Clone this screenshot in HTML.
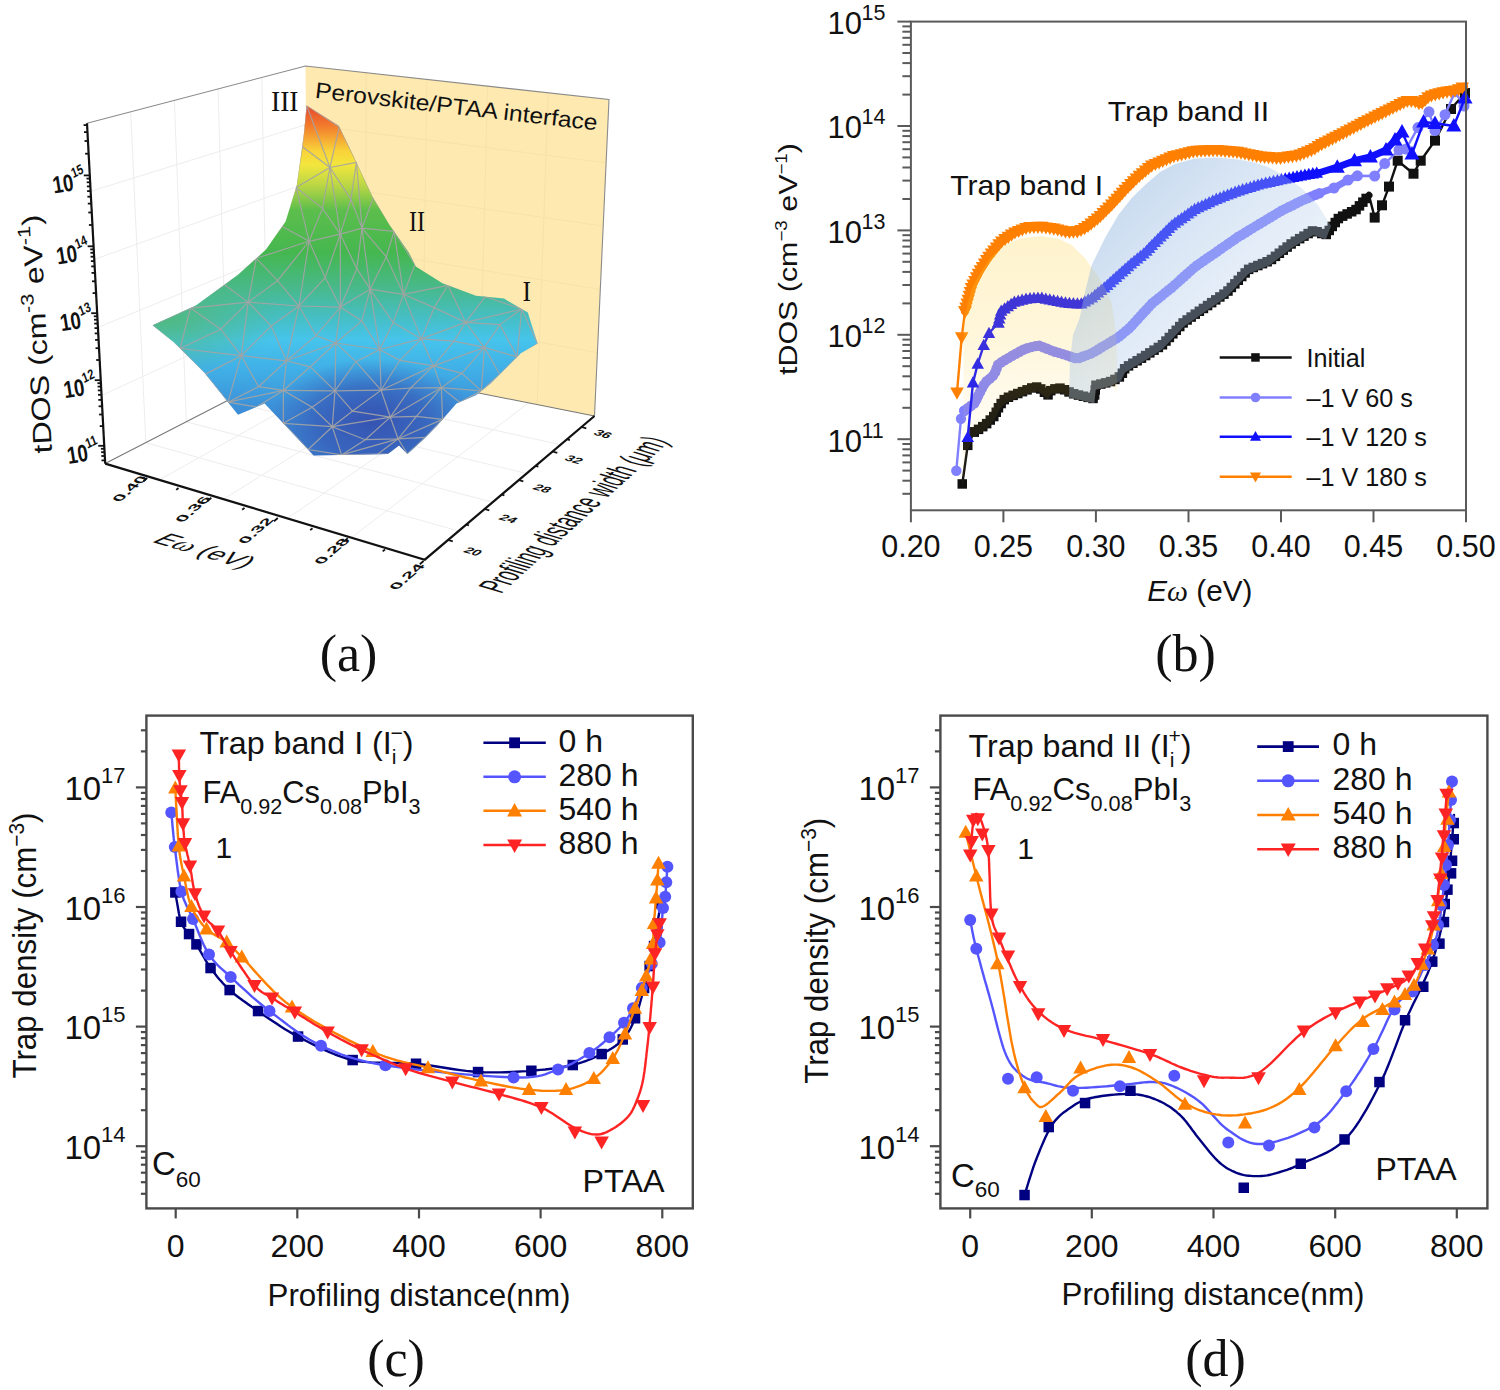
<!DOCTYPE html>
<html><head><meta charset="utf-8"><style>
html,body{margin:0;padding:0;background:#fff;}
svg{display:block;}
text{font-family:"Liberation Sans",sans-serif;fill:#111;}
</style></head><body>
<svg width="1500" height="1390" viewBox="0 0 1500 1390">
<rect width="1500" height="1390" fill="#fff"/>
<g stroke="#5a5a5a" stroke-width="2"><line x1="902.4" y1="493.8" x2="910.9" y2="493.8"/><line x1="902.4" y1="480.7" x2="910.9" y2="480.7"/><line x1="902.4" y1="470.6" x2="910.9" y2="470.6"/><line x1="902.4" y1="462.4" x2="910.9" y2="462.4"/><line x1="902.4" y1="455.4" x2="910.9" y2="455.4"/><line x1="902.4" y1="449.3" x2="910.9" y2="449.3"/><line x1="902.4" y1="444.0" x2="910.9" y2="444.0"/><line x1="897.4" y1="439.2" x2="910.9" y2="439.2"/><line x1="902.4" y1="407.8" x2="910.9" y2="407.8"/><line x1="902.4" y1="389.4" x2="910.9" y2="389.4"/><line x1="902.4" y1="376.3" x2="910.9" y2="376.3"/><line x1="902.4" y1="366.2" x2="910.9" y2="366.2"/><line x1="902.4" y1="358.0" x2="910.9" y2="358.0"/><line x1="902.4" y1="351.0" x2="910.9" y2="351.0"/><line x1="902.4" y1="344.9" x2="910.9" y2="344.9"/><line x1="902.4" y1="339.6" x2="910.9" y2="339.6"/><line x1="897.4" y1="334.8" x2="910.9" y2="334.8"/><line x1="902.4" y1="303.4" x2="910.9" y2="303.4"/><line x1="902.4" y1="285.0" x2="910.9" y2="285.0"/><line x1="902.4" y1="271.9" x2="910.9" y2="271.9"/><line x1="902.4" y1="261.8" x2="910.9" y2="261.8"/><line x1="902.4" y1="253.6" x2="910.9" y2="253.6"/><line x1="902.4" y1="246.6" x2="910.9" y2="246.6"/><line x1="902.4" y1="240.5" x2="910.9" y2="240.5"/><line x1="902.4" y1="235.2" x2="910.9" y2="235.2"/><line x1="897.4" y1="230.4" x2="910.9" y2="230.4"/><line x1="902.4" y1="199.0" x2="910.9" y2="199.0"/><line x1="902.4" y1="180.6" x2="910.9" y2="180.6"/><line x1="902.4" y1="167.5" x2="910.9" y2="167.5"/><line x1="902.4" y1="157.4" x2="910.9" y2="157.4"/><line x1="902.4" y1="149.2" x2="910.9" y2="149.2"/><line x1="902.4" y1="142.2" x2="910.9" y2="142.2"/><line x1="902.4" y1="136.1" x2="910.9" y2="136.1"/><line x1="902.4" y1="130.8" x2="910.9" y2="130.8"/><line x1="897.4" y1="126.0" x2="910.9" y2="126.0"/><line x1="902.4" y1="94.6" x2="910.9" y2="94.6"/><line x1="902.4" y1="76.2" x2="910.9" y2="76.2"/><line x1="902.4" y1="63.1" x2="910.9" y2="63.1"/><line x1="902.4" y1="53.0" x2="910.9" y2="53.0"/><line x1="902.4" y1="44.8" x2="910.9" y2="44.8"/><line x1="902.4" y1="37.8" x2="910.9" y2="37.8"/><line x1="902.4" y1="31.7" x2="910.9" y2="31.7"/><line x1="902.4" y1="26.4" x2="910.9" y2="26.4"/><line x1="897.4" y1="21.6" x2="910.9" y2="21.6"/><line x1="910.9" y1="510.3" x2="910.9" y2="522.3"/><line x1="1003.4" y1="510.3" x2="1003.4" y2="522.3"/><line x1="1095.9" y1="510.3" x2="1095.9" y2="522.3"/><line x1="1188.5" y1="510.3" x2="1188.5" y2="522.3"/><line x1="1281.0" y1="510.3" x2="1281.0" y2="522.3"/><line x1="1373.5" y1="510.3" x2="1373.5" y2="522.3"/><line x1="1466.0" y1="510.3" x2="1466.0" y2="522.3"/></g><text x="862" y="451.6" font-size="31" text-anchor="end">10</text><text x="861.5" y="437.6" font-size="21.5">11</text><text x="862" y="347.2" font-size="31" text-anchor="end">10</text><text x="861.5" y="333.2" font-size="21.5">12</text><text x="862" y="242.8" font-size="31" text-anchor="end">10</text><text x="861.5" y="228.8" font-size="21.5">13</text><text x="862" y="138.4" font-size="31" text-anchor="end">10</text><text x="861.5" y="124.4" font-size="21.5">14</text><text x="862" y="34.0" font-size="31" text-anchor="end">10</text><text x="861.5" y="20.0" font-size="21.5">15</text><text x="910.9" y="556.7" font-size="30.5" text-anchor="middle">0.20</text><text x="1003.4" y="556.7" font-size="30.5" text-anchor="middle">0.25</text><text x="1095.9" y="556.7" font-size="30.5" text-anchor="middle">0.30</text><text x="1188.5" y="556.7" font-size="30.5" text-anchor="middle">0.35</text><text x="1281.0" y="556.7" font-size="30.5" text-anchor="middle">0.40</text><text x="1373.5" y="556.7" font-size="30.5" text-anchor="middle">0.45</text><text x="1466.0" y="556.7" font-size="30.5" text-anchor="middle">0.50</text><text x="1147.3" y="600.7" font-size="29" textLength="105" lengthAdjust="spacingAndGlyphs"><tspan font-style="italic">E</tspan><tspan font-family="Liberation Serif" style="font-family:Liberation Serif" font-style="italic">&#969;</tspan> (eV)</text><text transform="translate(797,375) rotate(-90) scale(1.17,1)" font-size="26">tDOS (cm<tspan dy="-10" font-size="16">&#8722;3</tspan><tspan dy="10"> eV</tspan><tspan dy="-10" font-size="16">&#8722;1</tspan><tspan dy="10">)</tspan></text><text x="1185.6" y="671.2" font-size="52" text-anchor="middle" style="font-family:'Liberation Serif'">(b)</text><text x="950.2" y="195.4" font-size="28" textLength="153" lengthAdjust="spacingAndGlyphs">Trap band I</text><text x="1107.7" y="120.6" font-size="28" textLength="161.5" lengthAdjust="spacingAndGlyphs">Trap band II</text><polyline points="962.3,484.0 967.7,445.3 974.3,432.0 985.0,425.3 994.3,416.0 999.7,405.3 1005.0,398.7 1018.3,393.3 1031.7,388.0 1038.3,386.7 1047.7,395.3 1051.7,389.3 1061.0,388.0 1071.7,393.3 1085.0,396.7 1094.3,398.7 1095.7,385.3 1111.7,381.3 1121.0,376.0 1125.0,368.0 1138.3,360.0 1145.0,356.0 1162.4,344.8 1184.0,322.1 1205.5,307.0 1227.0,292.0 1248.7,269.3 1270.0,260.6 1291.8,243.4 1313.4,230.4 1325.8,235.0 1338.7,218.0 1356.0,209.6 1369.0,195.3 1374.7,217.6 1382.0,205.3 1389.0,186.6 1397.7,160.7 1413.5,173.7 1420.7,160.7 1435.0,140.6 1451.0,109.0 1465.0,93.0" fill="none" stroke="#111111" stroke-width="2.4" stroke-linejoin="round"/><polyline points="974.3,432.0 985.0,425.3 994.3,416.0 999.7,405.3 1005.0,398.7 1018.3,393.3 1031.7,388.0 1038.3,386.7 1047.7,395.3 1051.7,389.3 1061.0,388.0 1071.7,393.3 1085.0,396.7 1094.3,398.7 1095.7,385.3 1111.7,381.3 1121.0,376.0 1125.0,368.0 1138.3,360.0 1145.0,356.0 1162.4,344.8 1184.0,322.1 1205.5,307.0 1227.0,292.0 1248.7,269.3 1270.0,260.6 1291.8,243.4 1313.4,230.4 1325.8,235.0 1338.7,218.0 1356.0,209.6 1369.0,195.3" fill="none" stroke="#111111" stroke-width="7" stroke-linejoin="round" stroke-linecap="round"/><rect x="957.5" y="479.2" width="9.5" height="9.5" fill="#111111"/><rect x="963.0" y="440.6" width="9.5" height="9.5" fill="#111111"/><rect x="969.5" y="427.2" width="9.5" height="9.5" fill="#111111"/><rect x="969.5" y="427.2" width="9.5" height="9.5" fill="#111111"/><rect x="973.8" y="424.6" width="9.5" height="9.5" fill="#111111"/><rect x="978.0" y="421.9" width="9.5" height="9.5" fill="#111111"/><rect x="981.9" y="418.9" width="9.5" height="9.5" fill="#111111"/><rect x="985.5" y="415.3" width="9.5" height="9.5" fill="#111111"/><rect x="989.0" y="411.8" width="9.5" height="9.5" fill="#111111"/><rect x="991.5" y="407.5" width="9.5" height="9.5" fill="#111111"/><rect x="993.7" y="403.0" width="9.5" height="9.5" fill="#111111"/><rect x="996.4" y="398.8" width="9.5" height="9.5" fill="#111111"/><rect x="999.5" y="394.9" width="9.5" height="9.5" fill="#111111"/><rect x="1003.7" y="392.5" width="9.5" height="9.5" fill="#111111"/><rect x="1008.4" y="390.6" width="9.5" height="9.5" fill="#111111"/><rect x="1013.0" y="388.8" width="9.5" height="9.5" fill="#111111"/><rect x="1017.7" y="386.9" width="9.5" height="9.5" fill="#111111"/><rect x="1022.3" y="385.1" width="9.5" height="9.5" fill="#111111"/><rect x="1027.0" y="383.2" width="9.5" height="9.5" fill="#111111"/><rect x="1031.9" y="382.3" width="9.5" height="9.5" fill="#111111"/><rect x="1036.0" y="384.2" width="9.5" height="9.5" fill="#111111"/><rect x="1039.7" y="387.5" width="9.5" height="9.5" fill="#111111"/><rect x="1043.3" y="390.1" width="9.5" height="9.5" fill="#111111"/><rect x="1046.0" y="385.9" width="9.5" height="9.5" fill="#111111"/><rect x="1050.2" y="384.1" width="9.5" height="9.5" fill="#111111"/><rect x="1055.2" y="383.4" width="9.5" height="9.5" fill="#111111"/><rect x="1059.8" y="385.0" width="9.5" height="9.5" fill="#111111"/><rect x="1064.3" y="387.2" width="9.5" height="9.5" fill="#111111"/><rect x="1068.9" y="389.0" width="9.5" height="9.5" fill="#111111"/><rect x="1073.7" y="390.3" width="9.5" height="9.5" fill="#111111"/><rect x="1078.6" y="391.5" width="9.5" height="9.5" fill="#111111"/><rect x="1083.4" y="392.6" width="9.5" height="9.5" fill="#111111"/><rect x="1088.3" y="393.7" width="9.5" height="9.5" fill="#111111"/><rect x="1089.9" y="390.2" width="9.5" height="9.5" fill="#111111"/><rect x="1090.5" y="385.2" width="9.5" height="9.5" fill="#111111"/><rect x="1091.2" y="380.5" width="9.5" height="9.5" fill="#111111"/><rect x="1096.1" y="379.3" width="9.5" height="9.5" fill="#111111"/><rect x="1100.9" y="378.1" width="9.5" height="9.5" fill="#111111"/><rect x="1105.8" y="376.8" width="9.5" height="9.5" fill="#111111"/><rect x="1110.2" y="374.7" width="9.5" height="9.5" fill="#111111"/><rect x="1114.6" y="372.2" width="9.5" height="9.5" fill="#111111"/><rect x="1117.6" y="368.5" width="9.5" height="9.5" fill="#111111"/><rect x="1119.9" y="364.0" width="9.5" height="9.5" fill="#111111"/><rect x="1123.8" y="361.1" width="9.5" height="9.5" fill="#111111"/><rect x="1128.1" y="358.5" width="9.5" height="9.5" fill="#111111"/><rect x="1132.4" y="356.0" width="9.5" height="9.5" fill="#111111"/><rect x="1136.7" y="353.4" width="9.5" height="9.5" fill="#111111"/><rect x="1140.9" y="350.8" width="9.5" height="9.5" fill="#111111"/><rect x="1145.1" y="348.1" width="9.5" height="9.5" fill="#111111"/><rect x="1149.3" y="345.4" width="9.5" height="9.5" fill="#111111"/><rect x="1153.6" y="342.7" width="9.5" height="9.5" fill="#111111"/><rect x="1157.7" y="340.0" width="9.5" height="9.5" fill="#111111"/><rect x="1161.2" y="336.3" width="9.5" height="9.5" fill="#111111"/><rect x="1164.6" y="332.7" width="9.5" height="9.5" fill="#111111"/><rect x="1168.1" y="329.1" width="9.5" height="9.5" fill="#111111"/><rect x="1171.5" y="325.5" width="9.5" height="9.5" fill="#111111"/><rect x="1175.0" y="321.8" width="9.5" height="9.5" fill="#111111"/><rect x="1178.4" y="318.2" width="9.5" height="9.5" fill="#111111"/><rect x="1182.4" y="315.2" width="9.5" height="9.5" fill="#111111"/><rect x="1186.4" y="312.3" width="9.5" height="9.5" fill="#111111"/><rect x="1190.5" y="309.4" width="9.5" height="9.5" fill="#111111"/><rect x="1194.6" y="306.5" width="9.5" height="9.5" fill="#111111"/><rect x="1198.7" y="303.7" width="9.5" height="9.5" fill="#111111"/><rect x="1202.8" y="300.8" width="9.5" height="9.5" fill="#111111"/><rect x="1206.9" y="297.9" width="9.5" height="9.5" fill="#111111"/><rect x="1211.0" y="295.1" width="9.5" height="9.5" fill="#111111"/><rect x="1215.1" y="292.2" width="9.5" height="9.5" fill="#111111"/><rect x="1219.2" y="289.4" width="9.5" height="9.5" fill="#111111"/><rect x="1223.2" y="286.3" width="9.5" height="9.5" fill="#111111"/><rect x="1226.6" y="282.7" width="9.5" height="9.5" fill="#111111"/><rect x="1230.1" y="279.1" width="9.5" height="9.5" fill="#111111"/><rect x="1233.5" y="275.5" width="9.5" height="9.5" fill="#111111"/><rect x="1237.0" y="271.8" width="9.5" height="9.5" fill="#111111"/><rect x="1240.4" y="268.2" width="9.5" height="9.5" fill="#111111"/><rect x="1243.9" y="264.6" width="9.5" height="9.5" fill="#111111"/><rect x="1248.5" y="262.7" width="9.5" height="9.5" fill="#111111"/><rect x="1253.1" y="260.8" width="9.5" height="9.5" fill="#111111"/><rect x="1257.7" y="258.9" width="9.5" height="9.5" fill="#111111"/><rect x="1262.4" y="257.0" width="9.5" height="9.5" fill="#111111"/><rect x="1266.7" y="254.7" width="9.5" height="9.5" fill="#111111"/><rect x="1270.7" y="251.6" width="9.5" height="9.5" fill="#111111"/><rect x="1274.6" y="248.5" width="9.5" height="9.5" fill="#111111"/><rect x="1278.5" y="245.4" width="9.5" height="9.5" fill="#111111"/><rect x="1282.4" y="242.3" width="9.5" height="9.5" fill="#111111"/><rect x="1286.4" y="239.2" width="9.5" height="9.5" fill="#111111"/><rect x="1290.6" y="236.5" width="9.5" height="9.5" fill="#111111"/><rect x="1294.9" y="233.9" width="9.5" height="9.5" fill="#111111"/><rect x="1299.2" y="231.4" width="9.5" height="9.5" fill="#111111"/><rect x="1303.4" y="228.8" width="9.5" height="9.5" fill="#111111"/><rect x="1307.7" y="226.2" width="9.5" height="9.5" fill="#111111"/><rect x="1312.3" y="227.0" width="9.5" height="9.5" fill="#111111"/><rect x="1317.0" y="228.8" width="9.5" height="9.5" fill="#111111"/><rect x="1321.5" y="229.7" width="9.5" height="9.5" fill="#111111"/><rect x="1324.5" y="225.7" width="9.5" height="9.5" fill="#111111"/><rect x="1327.5" y="221.7" width="9.5" height="9.5" fill="#111111"/><rect x="1330.5" y="217.8" width="9.5" height="9.5" fill="#111111"/><rect x="1333.6" y="213.8" width="9.5" height="9.5" fill="#111111"/><rect x="1337.9" y="211.4" width="9.5" height="9.5" fill="#111111"/><rect x="1342.4" y="209.2" width="9.5" height="9.5" fill="#111111"/><rect x="1346.9" y="207.0" width="9.5" height="9.5" fill="#111111"/><rect x="1351.3" y="204.8" width="9.5" height="9.5" fill="#111111"/><rect x="1354.7" y="201.1" width="9.5" height="9.5" fill="#111111"/><rect x="1358.1" y="197.4" width="9.5" height="9.5" fill="#111111"/><rect x="1361.4" y="193.7" width="9.5" height="9.5" fill="#111111"/><rect x="1369.7" y="212.6" width="10.0" height="10.0" fill="#111111"/><rect x="1377.0" y="200.3" width="10.0" height="10.0" fill="#111111"/><rect x="1384.0" y="181.6" width="10.0" height="10.0" fill="#111111"/><rect x="1392.7" y="155.7" width="10.0" height="10.0" fill="#111111"/><rect x="1408.5" y="168.7" width="10.0" height="10.0" fill="#111111"/><rect x="1415.7" y="155.7" width="10.0" height="10.0" fill="#111111"/><rect x="1430.0" y="135.6" width="10.0" height="10.0" fill="#111111"/><rect x="1446.0" y="104.0" width="10.0" height="10.0" fill="#111111"/><rect x="1460.0" y="88.0" width="10.0" height="10.0" fill="#111111"/><polyline points="956.3,470.7 961.0,418.7 964.3,410.7 975.0,402.7 979.0,394.0 985.0,382.7 994.3,374.7 998.3,364.0 1011.7,356.0 1025.0,348.7 1038.3,345.3 1051.7,350.7 1065.0,354.7 1077.0,358.7 1091.7,353.3 1105.0,345.3 1118.3,337.3 1130.0,327.5 1151.6,303.8 1173.0,286.5 1194.7,267.0 1216.3,252.0 1238.0,237.0 1259.4,224.0 1281.0,211.0 1302.6,200.2 1320.0,193.0 1334.0,188.0 1348.0,180.0 1357.4,175.8 1374.7,176.0 1384.7,163.6 1399.0,150.0 1406.0,149.0 1418.0,127.6 1429.0,111.8 1435.0,130.5 1445.0,114.7 1455.0,91.7 1464.0,106.0" fill="none" stroke="#8080ff" stroke-width="2.4" stroke-linejoin="round"/><polyline points="964.3,410.7 975.0,402.7 979.0,394.0 985.0,382.7 994.3,374.7 998.3,364.0 1011.7,356.0 1025.0,348.7 1038.3,345.3 1051.7,350.7 1065.0,354.7 1077.0,358.7 1091.7,353.3 1105.0,345.3 1118.3,337.3 1130.0,327.5 1151.6,303.8 1173.0,286.5 1194.7,267.0 1216.3,252.0 1238.0,237.0 1259.4,224.0 1281.0,211.0 1302.6,200.2 1320.0,193.0 1334.0,188.0 1348.0,180.0 1357.4,175.8" fill="none" stroke="#8080ff" stroke-width="7" stroke-linejoin="round" stroke-linecap="round"/><circle cx="956.3" cy="470.7" r="5.2" fill="#8080ff"/><circle cx="961.0" cy="418.7" r="5.2" fill="#8080ff"/><circle cx="964.3" cy="410.7" r="5.2" fill="#8080ff"/><circle cx="964.3" cy="410.7" r="5.2" fill="#8080ff"/><circle cx="967.7" cy="408.2" r="5.2" fill="#8080ff"/><circle cx="971.0" cy="405.7" r="5.2" fill="#8080ff"/><circle cx="974.4" cy="403.2" r="5.2" fill="#8080ff"/><circle cx="976.4" cy="399.6" r="5.2" fill="#8080ff"/><circle cx="978.2" cy="395.8" r="5.2" fill="#8080ff"/><circle cx="980.1" cy="392.0" r="5.2" fill="#8080ff"/><circle cx="982.0" cy="388.3" r="5.2" fill="#8080ff"/><circle cx="984.0" cy="384.6" r="5.2" fill="#8080ff"/><circle cx="986.6" cy="381.3" r="5.2" fill="#8080ff"/><circle cx="989.8" cy="378.6" r="5.2" fill="#8080ff"/><circle cx="992.9" cy="375.9" r="5.2" fill="#8080ff"/><circle cx="995.1" cy="372.4" r="5.2" fill="#8080ff"/><circle cx="996.6" cy="368.5" r="5.2" fill="#8080ff"/><circle cx="998.1" cy="364.6" r="5.2" fill="#8080ff"/><circle cx="1001.4" cy="362.2" r="5.2" fill="#8080ff"/><circle cx="1005.0" cy="360.0" r="5.2" fill="#8080ff"/><circle cx="1008.6" cy="357.9" r="5.2" fill="#8080ff"/><circle cx="1012.2" cy="355.7" r="5.2" fill="#8080ff"/><circle cx="1015.9" cy="353.7" r="5.2" fill="#8080ff"/><circle cx="1019.6" cy="351.7" r="5.2" fill="#8080ff"/><circle cx="1023.2" cy="349.7" r="5.2" fill="#8080ff"/><circle cx="1027.1" cy="348.2" r="5.2" fill="#8080ff"/><circle cx="1031.2" cy="347.1" r="5.2" fill="#8080ff"/><circle cx="1035.3" cy="346.1" r="5.2" fill="#8080ff"/><circle cx="1039.3" cy="345.7" r="5.2" fill="#8080ff"/><circle cx="1043.2" cy="347.3" r="5.2" fill="#8080ff"/><circle cx="1047.1" cy="348.8" r="5.2" fill="#8080ff"/><circle cx="1051.0" cy="350.4" r="5.2" fill="#8080ff"/><circle cx="1055.0" cy="351.7" r="5.2" fill="#8080ff"/><circle cx="1059.0" cy="352.9" r="5.2" fill="#8080ff"/><circle cx="1063.0" cy="354.1" r="5.2" fill="#8080ff"/><circle cx="1067.0" cy="355.4" r="5.2" fill="#8080ff"/><circle cx="1071.0" cy="356.7" r="5.2" fill="#8080ff"/><circle cx="1075.0" cy="358.0" r="5.2" fill="#8080ff"/><circle cx="1079.0" cy="358.0" r="5.2" fill="#8080ff"/><circle cx="1082.9" cy="356.5" r="5.2" fill="#8080ff"/><circle cx="1086.8" cy="355.1" r="5.2" fill="#8080ff"/><circle cx="1090.8" cy="353.6" r="5.2" fill="#8080ff"/><circle cx="1094.5" cy="351.6" r="5.2" fill="#8080ff"/><circle cx="1098.1" cy="349.5" r="5.2" fill="#8080ff"/><circle cx="1101.7" cy="347.3" r="5.2" fill="#8080ff"/><circle cx="1105.3" cy="345.1" r="5.2" fill="#8080ff"/><circle cx="1108.9" cy="343.0" r="5.2" fill="#8080ff"/><circle cx="1112.5" cy="340.8" r="5.2" fill="#8080ff"/><circle cx="1116.1" cy="338.6" r="5.2" fill="#8080ff"/><circle cx="1119.5" cy="336.3" r="5.2" fill="#8080ff"/><circle cx="1122.7" cy="333.6" r="5.2" fill="#8080ff"/><circle cx="1126.0" cy="330.9" r="5.2" fill="#8080ff"/><circle cx="1129.2" cy="328.2" r="5.2" fill="#8080ff"/><circle cx="1132.1" cy="325.2" r="5.2" fill="#8080ff"/><circle cx="1134.9" cy="322.1" r="5.2" fill="#8080ff"/><circle cx="1137.8" cy="319.0" r="5.2" fill="#8080ff"/><circle cx="1140.6" cy="315.9" r="5.2" fill="#8080ff"/><circle cx="1143.4" cy="312.8" r="5.2" fill="#8080ff"/><circle cx="1146.3" cy="309.7" r="5.2" fill="#8080ff"/><circle cx="1149.1" cy="306.6" r="5.2" fill="#8080ff"/><circle cx="1152.0" cy="303.5" r="5.2" fill="#8080ff"/><circle cx="1155.2" cy="300.9" r="5.2" fill="#8080ff"/><circle cx="1158.5" cy="298.2" r="5.2" fill="#8080ff"/><circle cx="1161.8" cy="295.6" r="5.2" fill="#8080ff"/><circle cx="1165.0" cy="292.9" r="5.2" fill="#8080ff"/><circle cx="1168.3" cy="290.3" r="5.2" fill="#8080ff"/><circle cx="1171.6" cy="287.7" r="5.2" fill="#8080ff"/><circle cx="1174.7" cy="284.9" r="5.2" fill="#8080ff"/><circle cx="1177.9" cy="282.1" r="5.2" fill="#8080ff"/><circle cx="1181.0" cy="279.3" r="5.2" fill="#8080ff"/><circle cx="1184.1" cy="276.5" r="5.2" fill="#8080ff"/><circle cx="1187.2" cy="273.7" r="5.2" fill="#8080ff"/><circle cx="1190.4" cy="270.9" r="5.2" fill="#8080ff"/><circle cx="1193.5" cy="268.1" r="5.2" fill="#8080ff"/><circle cx="1196.8" cy="265.5" r="5.2" fill="#8080ff"/><circle cx="1200.3" cy="263.1" r="5.2" fill="#8080ff"/><circle cx="1203.7" cy="260.7" r="5.2" fill="#8080ff"/><circle cx="1207.2" cy="258.3" r="5.2" fill="#8080ff"/><circle cx="1210.6" cy="256.0" r="5.2" fill="#8080ff"/><circle cx="1214.1" cy="253.6" r="5.2" fill="#8080ff"/><circle cx="1217.5" cy="251.2" r="5.2" fill="#8080ff"/><circle cx="1221.0" cy="248.8" r="5.2" fill="#8080ff"/><circle cx="1224.4" cy="246.4" r="5.2" fill="#8080ff"/><circle cx="1227.9" cy="244.0" r="5.2" fill="#8080ff"/><circle cx="1231.3" cy="241.6" r="5.2" fill="#8080ff"/><circle cx="1234.8" cy="239.2" r="5.2" fill="#8080ff"/><circle cx="1238.2" cy="236.8" r="5.2" fill="#8080ff"/><circle cx="1241.8" cy="234.7" r="5.2" fill="#8080ff"/><circle cx="1245.4" cy="232.5" r="5.2" fill="#8080ff"/><circle cx="1249.0" cy="230.3" r="5.2" fill="#8080ff"/><circle cx="1252.6" cy="228.1" r="5.2" fill="#8080ff"/><circle cx="1256.2" cy="225.9" r="5.2" fill="#8080ff"/><circle cx="1259.8" cy="223.8" r="5.2" fill="#8080ff"/><circle cx="1263.4" cy="221.6" r="5.2" fill="#8080ff"/><circle cx="1267.0" cy="219.4" r="5.2" fill="#8080ff"/><circle cx="1270.6" cy="217.3" r="5.2" fill="#8080ff"/><circle cx="1274.2" cy="215.1" r="5.2" fill="#8080ff"/><circle cx="1277.8" cy="212.9" r="5.2" fill="#8080ff"/><circle cx="1281.4" cy="210.8" r="5.2" fill="#8080ff"/><circle cx="1285.1" cy="208.9" r="5.2" fill="#8080ff"/><circle cx="1288.9" cy="207.0" r="5.2" fill="#8080ff"/><circle cx="1292.7" cy="205.2" r="5.2" fill="#8080ff"/><circle cx="1296.4" cy="203.3" r="5.2" fill="#8080ff"/><circle cx="1300.2" cy="201.4" r="5.2" fill="#8080ff"/><circle cx="1304.0" cy="199.6" r="5.2" fill="#8080ff"/><circle cx="1307.9" cy="198.0" r="5.2" fill="#8080ff"/><circle cx="1311.7" cy="196.4" r="5.2" fill="#8080ff"/><circle cx="1315.6" cy="194.8" r="5.2" fill="#8080ff"/><circle cx="1319.5" cy="193.2" r="5.2" fill="#8080ff"/><circle cx="1334.0" cy="188.0" r="5.5" fill="#8080ff"/><circle cx="1348.0" cy="180.0" r="5.5" fill="#8080ff"/><circle cx="1357.4" cy="175.8" r="5.5" fill="#8080ff"/><circle cx="1374.7" cy="176.0" r="5.5" fill="#8080ff"/><circle cx="1384.7" cy="163.6" r="5.5" fill="#8080ff"/><circle cx="1399.0" cy="150.0" r="5.5" fill="#8080ff"/><circle cx="1406.0" cy="149.0" r="5.5" fill="#8080ff"/><circle cx="1418.0" cy="127.6" r="5.5" fill="#8080ff"/><circle cx="1429.0" cy="111.8" r="5.5" fill="#8080ff"/><circle cx="1435.0" cy="130.5" r="5.5" fill="#8080ff"/><circle cx="1445.0" cy="114.7" r="5.5" fill="#8080ff"/><circle cx="1455.0" cy="91.7" r="5.5" fill="#8080ff"/><circle cx="1464.0" cy="106.0" r="5.5" fill="#8080ff"/><polyline points="967.7,437.3 973.0,382.7 977.7,364.0 983.7,345.3 989.0,333.3 998.3,322.7 1001.0,311.3 1014.3,302.0 1027.7,298.7 1041.0,298.0 1054.3,300.7 1067.7,303.3 1081.0,304.0 1091.7,298.0 1105.0,287.3 1118.3,275.3 1131.7,263.3 1145.0,252.7 1151.6,245.5 1173.0,224.4 1194.7,209.3 1216.3,199.2 1238.0,191.0 1259.4,184.5 1281.0,179.7 1302.6,175.4 1320.0,172.5 1337.3,167.2 1354.5,160.7 1370.4,157.0 1386.0,150.0 1395.0,140.0 1402.0,132.0 1412.0,154.0 1423.6,122.0 1435.0,123.3 1453.8,126.0 1465.0,98.0" fill="none" stroke="#1010ff" stroke-width="2.4" stroke-linejoin="round"/><polyline points="998.3,322.7 1001.0,311.3 1014.3,302.0 1027.7,298.7 1041.0,298.0 1054.3,300.7 1067.7,303.3 1081.0,304.0 1091.7,298.0 1105.0,287.3 1118.3,275.3 1131.7,263.3 1145.0,252.7 1151.6,245.5 1173.0,224.4 1194.7,209.3 1216.3,199.2 1238.0,191.0 1259.4,184.5 1281.0,179.7 1302.6,175.4 1320.0,172.5 1337.3,167.2 1354.5,160.7 1370.4,157.0 1386.0,150.0 1395.0,140.0 1402.0,132.0" fill="none" stroke="#1010ff" stroke-width="7" stroke-linejoin="round" stroke-linecap="round"/><polygon points="967.7,430.7 974.0,442.0 961.5,442.0" fill="#1010ff"/><polygon points="973.0,376.1 979.2,387.4 966.8,387.4" fill="#1010ff"/><polygon points="977.7,357.4 984.0,368.7 971.5,368.7" fill="#1010ff"/><polygon points="983.7,338.7 990.0,350.0 977.5,350.0" fill="#1010ff"/><polygon points="989.0,326.7 995.2,338.0 982.8,338.0" fill="#1010ff"/><polygon points="998.3,316.1 1004.5,327.4 992.0,327.4" fill="#1010ff"/><polygon points="998.3,316.1 1004.5,327.4 992.0,327.4" fill="#1010ff"/><polygon points="999.2,312.2 1005.5,323.5 993.0,323.5" fill="#1010ff"/><polygon points="1000.1,308.4 1006.4,319.6 993.9,319.6" fill="#1010ff"/><polygon points="1001.2,304.6 1007.5,315.8 995.0,315.8" fill="#1010ff"/><polygon points="1004.5,302.3 1010.8,313.5 998.3,313.5" fill="#1010ff"/><polygon points="1007.8,300.0 1014.0,311.2 1001.5,311.2" fill="#1010ff"/><polygon points="1011.1,297.7 1017.3,308.9 1004.8,308.9" fill="#1010ff"/><polygon points="1014.4,295.4 1020.6,306.7 1008.1,306.7" fill="#1010ff"/><polygon points="1018.2,294.5 1024.5,305.7 1012.0,305.7" fill="#1010ff"/><polygon points="1022.1,293.5 1028.4,304.8 1015.9,304.8" fill="#1010ff"/><polygon points="1026.0,292.6 1032.3,303.8 1019.8,303.8" fill="#1010ff"/><polygon points="1030.0,292.0 1036.2,303.3 1023.7,303.3" fill="#1010ff"/><polygon points="1033.9,291.8 1040.2,303.1 1027.7,303.1" fill="#1010ff"/><polygon points="1037.9,291.6 1044.2,302.8 1031.7,302.8" fill="#1010ff"/><polygon points="1041.9,291.6 1048.2,302.9 1035.7,302.9" fill="#1010ff"/><polygon points="1045.8,292.4 1052.1,303.7 1039.6,303.7" fill="#1010ff"/><polygon points="1049.8,293.2 1056.0,304.5 1043.5,304.5" fill="#1010ff"/><polygon points="1053.7,294.0 1059.9,305.3 1047.4,305.3" fill="#1010ff"/><polygon points="1057.6,294.8 1063.9,306.0 1051.4,306.0" fill="#1010ff"/><polygon points="1061.5,295.5 1067.8,306.8 1055.3,306.8" fill="#1010ff"/><polygon points="1065.5,296.3 1071.7,307.6 1059.2,307.6" fill="#1010ff"/><polygon points="1069.4,296.8 1075.7,308.1 1063.2,308.1" fill="#1010ff"/><polygon points="1073.4,297.0 1079.7,308.3 1067.2,308.3" fill="#1010ff"/><polygon points="1077.4,297.2 1083.7,308.5 1071.2,308.5" fill="#1010ff"/><polygon points="1081.3,297.2 1087.6,308.5 1075.1,308.5" fill="#1010ff"/><polygon points="1084.8,295.3 1091.1,306.5 1078.6,306.5" fill="#1010ff"/><polygon points="1088.3,293.3 1094.6,304.6 1082.1,304.6" fill="#1010ff"/><polygon points="1091.8,291.4 1098.1,302.6 1085.6,302.6" fill="#1010ff"/><polygon points="1094.9,288.8 1101.2,300.1 1088.7,300.1" fill="#1010ff"/><polygon points="1098.0,286.3 1104.3,297.6 1091.8,297.6" fill="#1010ff"/><polygon points="1101.2,283.8 1107.4,295.1 1094.9,295.1" fill="#1010ff"/><polygon points="1104.3,281.3 1110.5,292.6 1098.0,292.6" fill="#1010ff"/><polygon points="1107.3,278.7 1113.5,289.9 1101.0,289.9" fill="#1010ff"/><polygon points="1110.2,276.0 1116.5,287.3 1104.0,287.3" fill="#1010ff"/><polygon points="1113.2,273.3 1119.5,284.6 1107.0,284.6" fill="#1010ff"/><polygon points="1116.2,270.6 1122.4,281.9 1109.9,281.9" fill="#1010ff"/><polygon points="1119.2,268.0 1125.4,279.2 1112.9,279.2" fill="#1010ff"/><polygon points="1122.1,265.3 1128.4,276.6 1115.9,276.6" fill="#1010ff"/><polygon points="1125.1,262.6 1131.4,273.9 1118.9,273.9" fill="#1010ff"/><polygon points="1128.1,260.0 1134.3,271.2 1121.8,271.2" fill="#1010ff"/><polygon points="1131.1,257.3 1137.3,268.5 1124.8,268.5" fill="#1010ff"/><polygon points="1134.2,254.8 1140.4,266.0 1127.9,266.0" fill="#1010ff"/><polygon points="1137.3,252.3 1143.5,263.5 1131.0,263.5" fill="#1010ff"/><polygon points="1140.4,249.8 1146.7,261.0 1134.2,261.0" fill="#1010ff"/><polygon points="1143.6,247.3 1149.8,258.5 1137.3,258.5" fill="#1010ff"/><polygon points="1146.5,244.6 1152.7,255.8 1140.2,255.8" fill="#1010ff"/><polygon points="1149.2,241.6 1155.4,252.9 1142.9,252.9" fill="#1010ff"/><polygon points="1151.9,238.7 1158.1,249.9 1145.6,249.9" fill="#1010ff"/><polygon points="1154.7,235.9 1161.0,247.1 1148.5,247.1" fill="#1010ff"/><polygon points="1157.6,233.1 1163.8,244.3 1151.3,244.3" fill="#1010ff"/><polygon points="1160.4,230.2 1166.7,241.5 1154.2,241.5" fill="#1010ff"/><polygon points="1163.3,227.4 1169.5,238.7 1157.0,238.7" fill="#1010ff"/><polygon points="1166.1,224.6 1172.4,235.9 1159.9,235.9" fill="#1010ff"/><polygon points="1169.0,221.8 1175.2,233.1 1162.7,233.1" fill="#1010ff"/><polygon points="1171.8,219.0 1178.1,230.3 1165.6,230.3" fill="#1010ff"/><polygon points="1174.9,216.5 1181.2,227.8 1168.7,227.8" fill="#1010ff"/><polygon points="1178.2,214.2 1184.4,225.5 1171.9,225.5" fill="#1010ff"/><polygon points="1181.5,211.9 1187.7,223.2 1175.2,223.2" fill="#1010ff"/><polygon points="1184.8,209.7 1191.0,220.9 1178.5,220.9" fill="#1010ff"/><polygon points="1188.0,207.4 1194.3,218.6 1181.8,218.6" fill="#1010ff"/><polygon points="1191.3,205.1 1197.6,216.3 1185.1,216.3" fill="#1010ff"/><polygon points="1194.6,202.8 1200.9,214.0 1188.4,214.0" fill="#1010ff"/><polygon points="1198.2,201.1 1204.5,212.3 1192.0,212.3" fill="#1010ff"/><polygon points="1201.9,199.4 1208.1,210.6 1195.6,210.6" fill="#1010ff"/><polygon points="1205.5,197.7 1211.7,208.9 1199.2,208.9" fill="#1010ff"/><polygon points="1209.1,196.0 1215.3,207.3 1202.8,207.3" fill="#1010ff"/><polygon points="1212.7,194.3 1219.0,205.6 1206.5,205.6" fill="#1010ff"/><polygon points="1216.3,192.6 1222.6,203.9 1210.1,203.9" fill="#1010ff"/><polygon points="1220.1,191.2 1226.3,202.5 1213.8,202.5" fill="#1010ff"/><polygon points="1223.8,189.8 1230.1,201.0 1217.6,201.0" fill="#1010ff"/><polygon points="1227.6,188.4 1233.8,199.6 1221.3,199.6" fill="#1010ff"/><polygon points="1231.3,187.0 1237.6,198.2 1225.1,198.2" fill="#1010ff"/><polygon points="1235.1,185.6 1241.3,196.8 1228.8,196.8" fill="#1010ff"/><polygon points="1238.8,184.2 1245.1,195.4 1232.6,195.4" fill="#1010ff"/><polygon points="1242.6,183.0 1248.9,194.3 1236.4,194.3" fill="#1010ff"/><polygon points="1246.5,181.9 1252.7,193.1 1240.2,193.1" fill="#1010ff"/><polygon points="1250.3,180.7 1256.5,192.0 1244.0,192.0" fill="#1010ff"/><polygon points="1254.1,179.5 1260.4,190.8 1247.9,190.8" fill="#1010ff"/><polygon points="1258.0,178.4 1264.2,189.6 1251.7,189.6" fill="#1010ff"/><polygon points="1261.8,177.4 1268.1,188.6 1255.6,188.6" fill="#1010ff"/><polygon points="1265.7,176.5 1272.0,187.8 1259.5,187.8" fill="#1010ff"/><polygon points="1269.6,175.7 1275.9,186.9 1263.4,186.9" fill="#1010ff"/><polygon points="1273.5,174.8 1279.8,186.0 1267.3,186.0" fill="#1010ff"/><polygon points="1277.4,173.9 1283.7,185.2 1271.2,185.2" fill="#1010ff"/><polygon points="1281.4,173.1 1287.6,184.3 1275.1,184.3" fill="#1010ff"/><polygon points="1285.3,172.3 1291.5,183.5 1279.0,183.5" fill="#1010ff"/><polygon points="1289.2,171.5 1295.4,182.8 1282.9,182.8" fill="#1010ff"/><polygon points="1293.1,170.7 1299.4,182.0 1286.9,182.0" fill="#1010ff"/><polygon points="1297.0,169.9 1303.3,181.2 1290.8,181.2" fill="#1010ff"/><polygon points="1301.0,169.2 1307.2,180.4 1294.7,180.4" fill="#1010ff"/><polygon points="1304.9,168.5 1311.2,179.7 1298.7,179.7" fill="#1010ff"/><polygon points="1308.8,167.8 1315.1,179.0 1302.6,179.0" fill="#1010ff"/><polygon points="1312.8,167.1 1319.0,178.4 1306.5,178.4" fill="#1010ff"/><polygon points="1316.7,166.5 1323.0,177.7 1310.5,177.7" fill="#1010ff"/><polygon points="1337.3,159.3 1344.8,172.8 1329.8,172.8" fill="#1010ff"/><polygon points="1354.5,152.8 1362.0,166.3 1347.0,166.3" fill="#1010ff"/><polygon points="1370.4,149.1 1377.9,162.6 1362.9,162.6" fill="#1010ff"/><polygon points="1386.0,142.1 1393.5,155.6 1378.5,155.6" fill="#1010ff"/><polygon points="1395.0,132.1 1402.5,145.6 1387.5,145.6" fill="#1010ff"/><polygon points="1402.0,124.1 1409.5,137.6 1394.5,137.6" fill="#1010ff"/><polygon points="1412.0,146.1 1419.5,159.6 1404.5,159.6" fill="#1010ff"/><polygon points="1423.6,114.1 1431.1,127.6 1416.1,127.6" fill="#1010ff"/><polygon points="1435.0,115.4 1442.5,128.9 1427.5,128.9" fill="#1010ff"/><polygon points="1453.8,118.1 1461.3,131.6 1446.3,131.6" fill="#1010ff"/><polygon points="1465.0,90.1 1472.5,103.6 1457.5,103.6" fill="#1010ff"/><polyline points="957.0,392.7 961.7,337.3 965.0,311.3 971.7,287.3 979.7,271.3 989.0,256.7 1001.0,242.0 1014.3,232.7 1027.7,227.3 1041.0,226.7 1054.3,228.7 1067.7,232.0 1078.3,231.3 1086.3,227.3 1098.3,218.0 1111.7,204.7 1125.0,190.0 1138.3,176.7 1151.6,165.7 1173.0,156.4 1194.7,151.0 1216.3,150.0 1238.0,152.0 1259.4,156.4 1278.9,158.0 1298.0,155.4 1313.0,149.5 1320.0,144.9 1341.6,134.0 1363.2,122.6 1377.6,115.4 1392.0,108.2 1406.3,101.0 1414.0,101.0 1420.7,104.0 1429.4,96.0 1442.3,92.4 1456.7,90.2 1464.0,86.6" fill="none" stroke="#ff8000" stroke-width="2.4" stroke-linejoin="round"/><polyline points="965.0,311.3 971.7,287.3 979.7,271.3 989.0,256.7 1001.0,242.0 1014.3,232.7 1027.7,227.3 1041.0,226.7 1054.3,228.7 1067.7,232.0 1078.3,231.3 1086.3,227.3 1098.3,218.0 1111.7,204.7 1125.0,190.0 1138.3,176.7 1151.6,165.7 1173.0,156.4 1194.7,151.0 1216.3,150.0 1238.0,152.0 1259.4,156.4 1278.9,158.0 1298.0,155.4 1313.0,149.5 1320.0,144.9 1341.6,134.0 1363.2,122.6 1377.6,115.4 1392.0,108.2 1406.3,101.0 1414.0,101.0 1420.7,104.0 1429.4,96.0 1442.3,92.4 1456.7,90.2 1464.0,86.6" fill="none" stroke="#ff8000" stroke-width="8" stroke-linejoin="round" stroke-linecap="round"/><polygon points="957.0,399.8 963.8,387.6 950.2,387.6" fill="#ff8000"/><polygon points="961.7,344.4 968.5,332.2 955.0,332.2" fill="#ff8000"/><polygon points="965.0,318.4 971.8,306.2 958.2,306.2" fill="#ff8000"/><polygon points="965.0,318.4 971.8,306.2 958.2,306.2" fill="#ff8000"/><polygon points="966.1,314.5 972.8,302.4 959.3,302.4" fill="#ff8000"/><polygon points="967.2,310.7 973.9,298.5 960.4,298.5" fill="#ff8000"/><polygon points="968.2,306.8 975.0,294.7 961.5,294.7" fill="#ff8000"/><polygon points="969.3,303.0 976.1,290.8 962.6,290.8" fill="#ff8000"/><polygon points="970.4,299.1 977.1,287.0 963.6,287.0" fill="#ff8000"/><polygon points="971.5,295.3 978.2,283.1 964.7,283.1" fill="#ff8000"/><polygon points="973.1,291.6 979.8,279.5 966.3,279.5" fill="#ff8000"/><polygon points="974.9,288.1 981.6,275.9 968.1,275.9" fill="#ff8000"/><polygon points="976.7,284.5 983.4,272.3 969.9,272.3" fill="#ff8000"/><polygon points="978.4,280.9 985.2,268.7 971.7,268.7" fill="#ff8000"/><polygon points="980.3,277.4 987.1,265.2 973.6,265.2" fill="#ff8000"/><polygon points="982.5,274.0 989.2,261.9 975.7,261.9" fill="#ff8000"/><polygon points="984.6,270.6 991.4,258.5 977.9,258.5" fill="#ff8000"/><polygon points="986.8,267.3 993.5,255.1 980.0,255.1" fill="#ff8000"/><polygon points="988.9,263.9 995.7,251.7 982.2,251.7" fill="#ff8000"/><polygon points="991.5,260.8 998.2,248.6 984.7,248.6" fill="#ff8000"/><polygon points="994.0,257.7 1000.7,245.5 987.2,245.5" fill="#ff8000"/><polygon points="996.5,254.6 1003.3,242.4 989.8,242.4" fill="#ff8000"/><polygon points="999.0,251.5 1005.8,239.3 992.3,239.3" fill="#ff8000"/><polygon points="1001.7,248.6 1008.5,236.4 995.0,236.4" fill="#ff8000"/><polygon points="1005.0,246.3 1011.8,234.1 998.3,234.1" fill="#ff8000"/><polygon points="1008.3,244.0 1015.0,231.8 1001.5,231.8" fill="#ff8000"/><polygon points="1011.6,241.7 1018.3,229.5 1004.8,229.5" fill="#ff8000"/><polygon points="1014.9,239.5 1021.7,227.4 1008.2,227.4" fill="#ff8000"/><polygon points="1018.6,238.0 1025.4,225.9 1011.9,225.9" fill="#ff8000"/><polygon points="1022.3,236.5 1029.1,224.4 1015.6,224.4" fill="#ff8000"/><polygon points="1026.1,235.0 1032.8,222.9 1019.3,222.9" fill="#ff8000"/><polygon points="1029.9,234.3 1036.7,222.1 1023.2,222.1" fill="#ff8000"/><polygon points="1033.9,234.1 1040.7,222.0 1027.2,222.0" fill="#ff8000"/><polygon points="1037.9,233.9 1044.7,221.8 1031.2,221.8" fill="#ff8000"/><polygon points="1041.9,233.9 1048.7,221.8 1035.2,221.8" fill="#ff8000"/><polygon points="1045.9,234.5 1052.6,222.4 1039.1,222.4" fill="#ff8000"/><polygon points="1049.8,235.1 1056.6,223.0 1043.1,223.0" fill="#ff8000"/><polygon points="1053.8,235.7 1060.5,223.6 1047.0,223.6" fill="#ff8000"/><polygon points="1057.7,236.6 1064.4,224.5 1050.9,224.5" fill="#ff8000"/><polygon points="1061.6,237.6 1068.3,225.4 1054.8,225.4" fill="#ff8000"/><polygon points="1065.4,238.5 1072.2,226.4 1058.7,226.4" fill="#ff8000"/><polygon points="1069.4,239.0 1076.1,226.8 1062.6,226.8" fill="#ff8000"/><polygon points="1073.4,238.7 1080.1,226.6 1066.6,226.6" fill="#ff8000"/><polygon points="1077.3,238.5 1084.1,226.3 1070.6,226.3" fill="#ff8000"/><polygon points="1081.0,237.0 1087.8,224.9 1074.3,224.9" fill="#ff8000"/><polygon points="1084.6,235.2 1091.4,223.1 1077.9,223.1" fill="#ff8000"/><polygon points="1088.0,233.1 1094.7,221.0 1081.2,221.0" fill="#ff8000"/><polygon points="1091.1,230.7 1097.9,218.5 1084.4,218.5" fill="#ff8000"/><polygon points="1094.3,228.2 1101.0,216.1 1087.5,216.1" fill="#ff8000"/><polygon points="1097.4,225.7 1104.2,213.6 1090.7,213.6" fill="#ff8000"/><polygon points="1100.4,223.0 1107.1,210.9 1093.6,210.9" fill="#ff8000"/><polygon points="1103.2,220.2 1110.0,208.1 1096.5,208.1" fill="#ff8000"/><polygon points="1106.0,217.4 1112.8,205.2 1099.3,205.2" fill="#ff8000"/><polygon points="1108.9,214.6 1115.6,202.4 1102.1,202.4" fill="#ff8000"/><polygon points="1111.7,211.8 1118.5,199.6 1105.0,199.6" fill="#ff8000"/><polygon points="1114.4,208.8 1121.2,196.6 1107.7,196.6" fill="#ff8000"/><polygon points="1117.1,205.8 1123.8,193.7 1110.3,193.7" fill="#ff8000"/><polygon points="1119.8,202.9 1126.5,190.7 1113.0,190.7" fill="#ff8000"/><polygon points="1122.5,199.9 1129.2,187.7 1115.7,187.7" fill="#ff8000"/><polygon points="1125.2,196.9 1131.9,184.8 1118.4,184.8" fill="#ff8000"/><polygon points="1128.0,194.1 1134.7,182.0 1121.2,182.0" fill="#ff8000"/><polygon points="1130.8,191.3 1137.6,179.1 1124.1,179.1" fill="#ff8000"/><polygon points="1133.6,188.5 1140.4,176.3 1126.9,176.3" fill="#ff8000"/><polygon points="1136.5,185.6 1143.2,173.5 1129.7,173.5" fill="#ff8000"/><polygon points="1139.4,182.9 1146.1,170.7 1132.6,170.7" fill="#ff8000"/><polygon points="1142.5,180.3 1149.2,168.2 1135.7,168.2" fill="#ff8000"/><polygon points="1145.5,177.8 1152.3,165.6 1138.8,165.6" fill="#ff8000"/><polygon points="1148.6,175.2 1155.4,163.1 1141.9,163.1" fill="#ff8000"/><polygon points="1151.7,172.7 1158.5,160.6 1145.0,160.6" fill="#ff8000"/><polygon points="1155.4,171.1 1162.2,159.0 1148.7,159.0" fill="#ff8000"/><polygon points="1159.1,169.5 1165.8,157.4 1152.3,157.4" fill="#ff8000"/><polygon points="1162.7,167.9 1169.5,155.8 1156.0,155.8" fill="#ff8000"/><polygon points="1166.4,166.4 1173.2,154.2 1159.7,154.2" fill="#ff8000"/><polygon points="1170.1,164.8 1176.8,152.6 1163.3,152.6" fill="#ff8000"/><polygon points="1173.8,163.3 1180.5,151.1 1167.0,151.1" fill="#ff8000"/><polygon points="1177.7,162.3 1184.4,150.2 1170.9,150.2" fill="#ff8000"/><polygon points="1181.6,161.4 1188.3,149.2 1174.8,149.2" fill="#ff8000"/><polygon points="1185.4,160.4 1192.2,148.2 1178.7,148.2" fill="#ff8000"/><polygon points="1189.3,159.4 1196.1,147.3 1182.6,147.3" fill="#ff8000"/><polygon points="1193.2,158.5 1199.9,146.3 1186.4,146.3" fill="#ff8000"/><polygon points="1197.1,158.0 1203.9,145.8 1190.4,145.8" fill="#ff8000"/><polygon points="1201.1,157.8 1207.9,145.6 1194.4,145.6" fill="#ff8000"/><polygon points="1205.1,157.6 1211.9,145.5 1198.4,145.5" fill="#ff8000"/><polygon points="1209.1,157.4 1215.9,145.3 1202.4,145.3" fill="#ff8000"/><polygon points="1213.1,157.2 1219.9,145.1 1206.4,145.1" fill="#ff8000"/><polygon points="1217.1,157.2 1223.9,145.0 1210.4,145.0" fill="#ff8000"/><polygon points="1221.1,157.5 1227.9,145.4 1214.4,145.4" fill="#ff8000"/><polygon points="1225.1,157.9 1231.8,145.7 1218.3,145.7" fill="#ff8000"/><polygon points="1229.1,158.3 1235.8,146.1 1222.3,146.1" fill="#ff8000"/><polygon points="1233.1,158.6 1239.8,146.5 1226.3,146.5" fill="#ff8000"/><polygon points="1237.0,159.0 1243.8,146.8 1230.3,146.8" fill="#ff8000"/><polygon points="1241.0,159.7 1247.7,147.5 1234.2,147.5" fill="#ff8000"/><polygon points="1244.9,160.5 1251.6,148.4 1238.1,148.4" fill="#ff8000"/><polygon points="1248.8,161.3 1255.6,149.2 1242.1,149.2" fill="#ff8000"/><polygon points="1252.7,162.1 1259.5,150.0 1246.0,150.0" fill="#ff8000"/><polygon points="1256.6,162.9 1263.4,150.8 1249.9,150.8" fill="#ff8000"/><polygon points="1260.6,163.6 1267.3,151.4 1253.8,151.4" fill="#ff8000"/><polygon points="1264.6,163.9 1271.3,151.8 1257.8,151.8" fill="#ff8000"/><polygon points="1268.6,164.2 1275.3,152.1 1261.8,152.1" fill="#ff8000"/><polygon points="1272.5,164.6 1279.3,152.4 1265.8,152.4" fill="#ff8000"/><polygon points="1276.5,164.9 1283.3,152.7 1269.8,152.7" fill="#ff8000"/><polygon points="1280.5,164.9 1287.3,152.7 1273.8,152.7" fill="#ff8000"/><polygon points="1284.5,164.3 1291.2,152.2 1277.7,152.2" fill="#ff8000"/><polygon points="1288.4,163.8 1295.2,151.6 1281.7,151.6" fill="#ff8000"/><polygon points="1292.4,163.3 1299.1,151.1 1285.6,151.1" fill="#ff8000"/><polygon points="1296.4,162.7 1303.1,150.6 1289.6,150.6" fill="#ff8000"/><polygon points="1300.2,161.6 1306.9,149.5 1293.4,149.5" fill="#ff8000"/><polygon points="1303.9,160.2 1310.7,148.0 1297.2,148.0" fill="#ff8000"/><polygon points="1307.6,158.7 1314.4,146.6 1300.9,146.6" fill="#ff8000"/><polygon points="1311.4,157.2 1318.1,145.1 1304.6,145.1" fill="#ff8000"/><polygon points="1314.9,155.4 1321.6,143.2 1308.1,143.2" fill="#ff8000"/><polygon points="1318.2,153.2 1325.0,141.0 1311.5,141.0" fill="#ff8000"/><polygon points="1321.7,151.2 1328.4,139.0 1314.9,139.0" fill="#ff8000"/><polygon points="1325.2,149.4 1332.0,137.2 1318.5,137.2" fill="#ff8000"/><polygon points="1328.8,147.5 1335.5,135.4 1322.0,135.4" fill="#ff8000"/><polygon points="1332.4,145.7 1339.1,133.6 1325.6,133.6" fill="#ff8000"/><polygon points="1335.9,143.9 1342.7,131.8 1329.2,131.8" fill="#ff8000"/><polygon points="1339.5,142.1 1346.3,130.0 1332.8,130.0" fill="#ff8000"/><polygon points="1343.1,140.3 1349.8,128.2 1336.3,128.2" fill="#ff8000"/><polygon points="1346.6,138.4 1353.4,126.3 1339.9,126.3" fill="#ff8000"/><polygon points="1350.1,136.6 1356.9,124.4 1343.4,124.4" fill="#ff8000"/><polygon points="1353.7,134.7 1360.4,122.6 1346.9,122.6" fill="#ff8000"/><polygon points="1357.2,132.8 1364.0,120.7 1350.5,120.7" fill="#ff8000"/><polygon points="1360.8,131.0 1367.5,118.8 1354.0,118.8" fill="#ff8000"/><polygon points="1364.3,129.1 1371.1,117.0 1357.6,117.0" fill="#ff8000"/><polygon points="1367.9,127.3 1374.6,115.2 1361.1,115.2" fill="#ff8000"/><polygon points="1371.5,125.6 1378.2,113.4 1364.7,113.4" fill="#ff8000"/><polygon points="1375.0,123.8 1381.8,111.6 1368.3,111.6" fill="#ff8000"/><polygon points="1378.6,122.0 1385.4,109.8 1371.9,109.8" fill="#ff8000"/><polygon points="1382.2,120.2 1388.9,108.0 1375.4,108.0" fill="#ff8000"/><polygon points="1385.8,118.4 1392.5,106.3 1379.0,106.3" fill="#ff8000"/><polygon points="1389.3,116.6 1396.1,104.5 1382.6,104.5" fill="#ff8000"/><polygon points="1392.9,114.8 1399.7,102.7 1386.2,102.7" fill="#ff8000"/><polygon points="1396.5,113.0 1403.2,100.9 1389.7,100.9" fill="#ff8000"/><polygon points="1400.1,111.2 1406.8,99.1 1393.3,99.1" fill="#ff8000"/><polygon points="1403.6,109.4 1410.4,97.3 1396.9,97.3" fill="#ff8000"/><polygon points="1407.3,108.1 1414.1,95.9 1400.6,95.9" fill="#ff8000"/><polygon points="1411.3,108.1 1418.1,95.9 1404.6,95.9" fill="#ff8000"/><polygon points="1415.2,108.6 1422.0,96.5 1408.5,96.5" fill="#ff8000"/><polygon points="1418.9,110.3 1425.6,98.1 1412.1,98.1" fill="#ff8000"/><polygon points="1422.2,109.7 1428.9,97.6 1415.4,97.6" fill="#ff8000"/><polygon points="1425.1,107.0 1431.9,94.9 1418.4,94.9" fill="#ff8000"/><polygon points="1428.0,104.3 1434.8,92.2 1421.3,92.2" fill="#ff8000"/><polygon points="1431.5,102.5 1438.2,90.4 1424.7,90.4" fill="#ff8000"/><polygon points="1435.3,101.4 1442.1,89.3 1428.6,89.3" fill="#ff8000"/><polygon points="1439.2,100.4 1445.9,88.2 1432.4,88.2" fill="#ff8000"/><polygon points="1443.1,99.4 1449.8,87.2 1436.3,87.2" fill="#ff8000"/><polygon points="1447.0,98.8 1453.8,86.6 1440.3,86.6" fill="#ff8000"/><polygon points="1451.0,98.2 1457.7,86.0 1444.2,86.0" fill="#ff8000"/><polygon points="1454.9,97.6 1461.7,85.4 1448.2,85.4" fill="#ff8000"/><polygon points="1458.7,96.3 1465.4,84.2 1451.9,84.2" fill="#ff8000"/><polygon points="1462.3,94.5 1469.0,82.4 1455.5,82.4" fill="#ff8000"/><defs>
<linearGradient id="gy" x1="0" y1="236" x2="0" y2="420" gradientUnits="userSpaceOnUse">
<stop offset="0" stop-color="#ffcf37" stop-opacity="0.25"/><stop offset="0.6" stop-color="#ffcf37" stop-opacity="0.17"/><stop offset="1" stop-color="#ffcf37" stop-opacity="0.07"/></linearGradient>
<linearGradient id="gb" x1="1100" y1="150" x2="1320" y2="380" gradientUnits="userSpaceOnUse">
<stop offset="0" stop-color="#7aa6d8" stop-opacity="0.5"/><stop offset="0.5" stop-color="#a9c6e8" stop-opacity="0.35"/><stop offset="1" stop-color="#d6e4f6" stop-opacity="0.25"/></linearGradient>
</defs><polygon points="963.5,412.0 963.7,323.0 967.7,303.3 972.0,288.0 978.0,276.7 990.0,258.0 1005.0,245.0 1020.0,238.5 1041.0,236.0 1058.0,238.5 1071.7,245.0 1085.0,258.0 1098.3,276.7 1106.0,290.0 1111.7,303.3 1115.7,330.0 1117.0,360.0 1117.0,392.0 1111.7,385.8 1095.7,389.8 1094.3,403.2 1085.0,401.2 1071.7,397.8 1061.0,392.5 1051.7,393.8 1047.7,399.8 1038.3,391.2 1031.7,392.5 1018.3,397.8 1005.0,403.2 999.7,409.8 994.3,420.5 985.0,429.8 974.3,436.5 967.7,449.8 962.3,488.5" fill="url(#gy)"/><polygon points="1069.0,398.0 1070.0,360.0 1073.0,335.0 1079.7,318.0 1085.0,292.0 1091.7,265.0 1105.0,238.0 1118.3,215.0 1131.7,198.0 1145.0,185.0 1160.0,172.0 1175.0,164.0 1195.0,158.5 1216.0,157.5 1238.0,159.5 1255.0,162.5 1268.0,167.0 1285.0,176.0 1302.6,189.0 1318.0,205.0 1331.0,226.0 1325.8,239.5 1313.4,234.9 1291.8,247.9 1270.0,265.1 1248.7,273.8 1227.0,296.5 1205.5,311.5 1184.0,326.6 1162.4,349.3 1145.0,360.5 1138.3,364.5 1125.0,372.5 1121.0,380.5 1111.7,385.8 1095.7,389.8 1094.3,403.2 1085.0,401.2 1071.7,397.8" fill="url(#gb)"/><rect x="910.9" y="21.6" width="555.1" height="488.7" fill="none" stroke="#5a5a5a" stroke-width="2"/><line x1="1219.7" y1="357.5" x2="1291.7" y2="357.5" stroke="#111111" stroke-width="2.6"/><rect x="1251.2" y="353.2" width="8.5" height="8.5" fill="#111111"/><text x="1306.5" y="366.5" font-size="25.2">Initial</text><line x1="1219.7" y1="397.5" x2="1291.7" y2="397.5" stroke="#8080ff" stroke-width="2.6"/><circle cx="1255.5" cy="397.5" r="4.8" fill="#8080ff"/><text x="1306.5" y="406.5" font-size="25.2">&#8211;1 V 60 s</text><line x1="1219.7" y1="436.7" x2="1291.7" y2="436.7" stroke="#1010ff" stroke-width="2.6"/><polygon points="1255.5,430.9 1261.0,440.8 1250.0,440.8" fill="#1010ff"/><text x="1306.5" y="445.7" font-size="25.2">&#8211;1 V 120 s</text><line x1="1219.7" y1="476.7" x2="1291.7" y2="476.7" stroke="#ff8000" stroke-width="2.6"/><polygon points="1255.5,482.5 1261.0,472.6 1250.0,472.6" fill="#ff8000"/><text x="1306.5" y="485.7" font-size="25.2">&#8211;1 V 180 s</text><g stroke="#4a4a4a" stroke-width="2.2"><line x1="140.9" y1="1193.8" x2="146.4" y2="1193.8"/><line x1="140.9" y1="1182.2" x2="146.4" y2="1182.2"/><line x1="140.9" y1="1172.7" x2="146.4" y2="1172.7"/><line x1="140.9" y1="1164.7" x2="146.4" y2="1164.7"/><line x1="140.9" y1="1157.8" x2="146.4" y2="1157.8"/><line x1="140.9" y1="1151.7" x2="146.4" y2="1151.7"/><line x1="135.9" y1="1146.2" x2="146.4" y2="1146.2"/><line x1="140.9" y1="1110.2" x2="146.4" y2="1110.2"/><line x1="140.9" y1="1089.1" x2="146.4" y2="1089.1"/><line x1="140.9" y1="1074.2" x2="146.4" y2="1074.2"/><line x1="140.9" y1="1062.6" x2="146.4" y2="1062.6"/><line x1="140.9" y1="1053.1" x2="146.4" y2="1053.1"/><line x1="140.9" y1="1045.1" x2="146.4" y2="1045.1"/><line x1="140.9" y1="1038.2" x2="146.4" y2="1038.2"/><line x1="140.9" y1="1032.1" x2="146.4" y2="1032.1"/><line x1="135.9" y1="1026.6" x2="146.4" y2="1026.6"/><line x1="140.9" y1="990.6" x2="146.4" y2="990.6"/><line x1="140.9" y1="969.5" x2="146.4" y2="969.5"/><line x1="140.9" y1="954.6" x2="146.4" y2="954.6"/><line x1="140.9" y1="943.0" x2="146.4" y2="943.0"/><line x1="140.9" y1="933.5" x2="146.4" y2="933.5"/><line x1="140.9" y1="925.5" x2="146.4" y2="925.5"/><line x1="140.9" y1="918.6" x2="146.4" y2="918.6"/><line x1="140.9" y1="912.5" x2="146.4" y2="912.5"/><line x1="135.9" y1="907.0" x2="146.4" y2="907.0"/><line x1="140.9" y1="871.0" x2="146.4" y2="871.0"/><line x1="140.9" y1="849.9" x2="146.4" y2="849.9"/><line x1="140.9" y1="835.0" x2="146.4" y2="835.0"/><line x1="140.9" y1="823.4" x2="146.4" y2="823.4"/><line x1="140.9" y1="813.9" x2="146.4" y2="813.9"/><line x1="140.9" y1="805.9" x2="146.4" y2="805.9"/><line x1="140.9" y1="799.0" x2="146.4" y2="799.0"/><line x1="140.9" y1="792.9" x2="146.4" y2="792.9"/><line x1="135.9" y1="787.4" x2="146.4" y2="787.4"/><line x1="140.9" y1="751.4" x2="146.4" y2="751.4"/><line x1="140.9" y1="730.3" x2="146.4" y2="730.3"/><line x1="175.7" y1="1208.4" x2="175.7" y2="1218.4"/><line x1="297.3" y1="1208.4" x2="297.3" y2="1218.4"/><line x1="419.0" y1="1208.4" x2="419.0" y2="1218.4"/><line x1="540.6" y1="1208.4" x2="540.6" y2="1218.4"/><line x1="662.3" y1="1208.4" x2="662.3" y2="1218.4"/></g><rect x="146.4" y="715.6" width="546.4" height="492.8" fill="none" stroke="#4a4a4a" stroke-width="2.4"/><text x="175.7" y="1257.3" font-size="32" text-anchor="middle">0</text><text x="297.3" y="1257.3" font-size="32" text-anchor="middle">200</text><text x="419.0" y="1257.3" font-size="32" text-anchor="middle">400</text><text x="540.6" y="1257.3" font-size="32" text-anchor="middle">600</text><text x="662.3" y="1257.3" font-size="32" text-anchor="middle">800</text><text x="101.1" y="1159.0" font-size="33" text-anchor="end">10</text><text x="100.9" y="1141.8" font-size="22">14</text><text x="101.1" y="1039.4" font-size="33" text-anchor="end">10</text><text x="100.9" y="1022.2" font-size="22">15</text><text x="101.1" y="919.8" font-size="33" text-anchor="end">10</text><text x="100.9" y="902.6" font-size="22">16</text><text x="101.1" y="800.2" font-size="33" text-anchor="end">10</text><text x="100.9" y="783.0" font-size="22">17</text><polyline points="175.3,892.5 175.6,894.3 176.0,896.7 176.5,899.6 177.1,902.9 177.7,906.3 178.3,909.8 178.9,913.3 179.6,916.5 180.3,919.3 181.0,921.7 181.7,923.6 182.5,925.3 183.2,926.7 184.1,927.9 184.9,929.0 185.7,930.0 186.6,931.0 187.4,931.9 188.2,932.9 189.0,934.0 189.7,935.1 190.4,936.0 191.1,936.8 191.7,937.7 192.4,938.5 193.0,939.4 193.8,940.4 194.6,941.5 195.5,942.8 196.5,944.4 197.6,946.2 198.8,948.3 200.1,950.6 201.4,953.0 202.8,955.5 204.3,958.0 205.8,960.6 207.4,963.2 209.0,965.6 210.6,968.0 212.3,970.3 214.0,972.5 215.7,974.7 217.4,977.0 219.3,979.2 221.2,981.3 223.1,983.5 225.2,985.7 227.4,987.8 229.7,990.0 232.1,992.1 234.6,994.2 237.1,996.2 239.8,998.3 242.5,1000.3 245.4,1002.3 248.4,1004.4 251.4,1006.5 254.7,1008.7 258.0,1011.0 261.5,1013.4 265.0,1015.9 268.7,1018.4 272.5,1021.0 276.4,1023.6 280.4,1026.3 284.6,1028.9 288.9,1031.5 293.4,1034.1 298.0,1036.6 302.8,1039.1 307.8,1041.7 313.0,1044.4 318.4,1047.1 323.8,1049.7 329.4,1052.2 335.1,1054.5 340.9,1056.6 346.7,1058.5 352.6,1060.0 358.6,1061.2 364.7,1061.9 371.0,1062.4 377.4,1062.7 383.8,1062.8 390.3,1062.9 396.8,1063.0 403.3,1063.1 409.7,1063.3 416.0,1063.8 422.3,1064.5 428.6,1065.3 435.0,1066.2 441.3,1067.2 447.6,1068.2 453.9,1069.2 460.1,1070.1 466.2,1070.9 472.2,1071.5 478.0,1072.0 483.7,1072.3 489.4,1072.4 495.0,1072.4 500.6,1072.4 506.0,1072.2 511.3,1072.0 516.5,1071.7 521.6,1071.4 526.6,1071.1 531.4,1070.7 536.1,1070.3 540.6,1069.9 545.1,1069.5 549.4,1069.0 553.6,1068.5 557.7,1067.9 561.6,1067.2 565.4,1066.5 569.1,1065.8 572.7,1065.0 576.1,1064.1 579.4,1063.2 582.5,1062.2 585.5,1061.1 588.4,1060.0 591.2,1058.9 593.9,1057.7 596.5,1056.5 599.1,1055.3 601.6,1054.0 604.1,1052.7 606.5,1051.4 608.8,1050.1 611.1,1048.8 613.2,1047.4 615.3,1046.0 617.3,1044.5 619.3,1042.9 621.1,1041.2 622.8,1039.5 624.4,1037.7 625.9,1035.8 627.2,1033.9 628.5,1031.9 629.7,1029.9 630.8,1027.8 631.9,1025.5 632.9,1023.2 634.0,1020.8 635.0,1018.3 636.0,1015.6 637.1,1012.7 638.0,1009.6 639.0,1006.4 639.9,1003.2 640.8,1000.0 641.7,996.8 642.5,993.7 643.3,990.7 644.0,988.0 644.7,985.5 645.4,983.0 646.0,980.7 646.5,978.5 647.1,976.4 647.6,974.3 648.1,972.2 648.6,970.1 649.1,968.1 649.6,966.0 650.1,963.9 650.6,961.9 651.0,959.9 651.5,958.0 651.9,956.0 652.4,954.1 652.8,952.1 653.2,950.1 653.6,948.1 654.0,946.0 654.4,943.8 654.7,941.6 655.1,939.4 655.4,937.1 655.8,934.8 656.1,932.5 656.4,930.2 656.7,928.0 657.1,925.8 657.4,923.6 657.7,921.4 658.1,919.1 658.5,916.8 658.9,914.4 659.3,912.2 659.6,910.0 660.0,908.0 660.3,906.2 660.5,904.7 660.7,903.5" fill="none" stroke="#000080" stroke-width="2.4" stroke-linejoin="round" stroke-linecap="round"/><rect x="170.1" y="887.2" width="10.5" height="10.5" fill="#000080"/><rect x="175.8" y="916.5" width="10.5" height="10.5" fill="#000080"/><rect x="183.8" y="928.8" width="10.5" height="10.5" fill="#000080"/><rect x="191.2" y="939.1" width="10.5" height="10.5" fill="#000080"/><rect x="205.3" y="962.8" width="10.5" height="10.5" fill="#000080"/><rect x="224.4" y="984.8" width="10.5" height="10.5" fill="#000080"/><rect x="252.8" y="1005.8" width="10.5" height="10.5" fill="#000080"/><rect x="292.8" y="1031.3" width="10.5" height="10.5" fill="#000080"/><rect x="347.4" y="1054.8" width="10.5" height="10.5" fill="#000080"/><rect x="410.8" y="1058.5" width="10.5" height="10.5" fill="#000080"/><rect x="472.8" y="1066.8" width="10.5" height="10.5" fill="#000080"/><rect x="526.1" y="1065.5" width="10.5" height="10.5" fill="#000080"/><rect x="567.5" y="1059.8" width="10.5" height="10.5" fill="#000080"/><rect x="596.4" y="1048.8" width="10.5" height="10.5" fill="#000080"/><rect x="617.5" y="1034.2" width="10.5" height="10.5" fill="#000080"/><rect x="629.8" y="1013.0" width="10.5" height="10.5" fill="#000080"/><rect x="638.8" y="982.8" width="10.5" height="10.5" fill="#000080"/><rect x="644.4" y="960.8" width="10.5" height="10.5" fill="#000080"/><rect x="648.8" y="940.8" width="10.5" height="10.5" fill="#000080"/><rect x="652.1" y="918.4" width="10.5" height="10.5" fill="#000080"/><rect x="655.5" y="898.2" width="10.5" height="10.5" fill="#000080"/><polyline points="171.3,812.4 171.5,814.4 171.7,816.9 172.0,819.9 172.3,823.3 172.6,826.9 173.0,830.8 173.4,834.8 173.8,838.9 174.3,843.0 174.8,847.0 175.3,851.1 175.8,855.5 176.4,860.2 177.0,864.9 177.6,869.7 178.3,874.4 179.0,879.1 179.7,883.5 180.5,887.7 181.4,891.5 182.3,894.9 183.3,898.0 184.4,900.7 185.5,903.3 186.6,905.8 187.8,908.2 189.0,910.7 190.3,913.3 191.6,916.0 193.0,919.0 194.4,922.3 195.8,925.8 197.3,929.5 198.8,933.2 200.4,937.1 202.0,940.9 203.6,944.6 205.4,948.1 207.1,951.4 209.0,954.5 210.9,957.2 212.7,959.6 214.6,961.8 216.4,963.9 218.4,965.8 220.5,967.8 222.8,969.8 225.2,972.0 227.8,974.3 230.7,977.0 233.8,979.9 237.2,983.1 240.7,986.3 244.4,989.7 248.2,993.2 252.2,996.8 256.4,1000.4 260.7,1004.0 265.0,1007.5 269.5,1011.0 274.1,1014.5 278.8,1018.1 283.6,1021.8 288.6,1025.6 293.6,1029.2 298.9,1032.9 304.2,1036.4 309.7,1039.7 315.3,1042.8 321.0,1045.7 326.6,1048.3 332.0,1050.7 337.4,1052.9 342.8,1055.0 348.4,1056.9 354.4,1058.7 361.0,1060.4 368.2,1062.1 376.3,1063.7 385.4,1065.3 396.0,1066.9 408.3,1068.5 421.8,1070.1 436.1,1071.6 450.7,1073.1 465.3,1074.4 479.3,1075.5 492.3,1076.4 503.9,1077.0 513.6,1077.4 521.5,1077.5 528.1,1077.3 533.5,1076.8 538.0,1076.1 541.8,1075.3 545.2,1074.3 548.3,1073.2 551.3,1072.0 554.5,1070.8 558.0,1069.6 561.7,1068.3 565.3,1066.8 568.7,1065.2 572.0,1063.6 575.2,1061.8 578.3,1060.0 581.2,1058.2 584.1,1056.4 586.8,1054.7 589.4,1053.0 591.9,1051.4 594.2,1049.8 596.4,1048.2 598.5,1046.6 600.5,1045.0 602.4,1043.5 604.2,1041.9 606.0,1040.3 607.8,1038.8 609.5,1037.3 611.2,1035.8 612.8,1034.3 614.4,1032.9 616.0,1031.4 617.4,1030.0 618.9,1028.5 620.2,1027.1 621.5,1025.7 622.8,1024.2 624.0,1022.8 625.1,1021.4 626.2,1020.0 627.1,1018.6 628.0,1017.3 628.9,1015.9 629.7,1014.5 630.5,1013.1 631.3,1011.6 632.1,1010.0 633.0,1008.3 633.9,1006.5 634.8,1004.7 635.6,1002.8 636.5,1000.8 637.3,998.8 638.2,996.7 639.1,994.6 640.0,992.4 640.9,990.2 641.8,988.0 642.8,985.7 643.8,983.3 644.8,980.9 645.8,978.4 646.9,975.9 647.9,973.4 648.9,970.9 649.9,968.4 650.9,966.0 651.8,963.7 652.7,961.5 653.6,959.5 654.4,957.5 655.3,955.6 656.1,953.7 656.9,951.8 657.7,949.7 658.4,947.5 659.0,945.1 659.6,942.5 660.1,939.5 660.6,936.1 661.0,932.4 661.3,928.5 661.7,924.6 661.9,920.8 662.2,917.1 662.5,913.6 662.7,910.6 663.0,908.0 663.3,906.0 663.5,904.3 663.8,903.0 664.0,902.0 664.2,901.1 664.5,900.4 664.7,899.7 664.8,898.9 665.0,897.9 665.2,896.8 665.4,895.5 665.5,894.1 665.6,892.7 665.7,891.3 665.8,889.8 665.9,888.3 666.0,886.8 666.1,885.3 666.2,883.8 666.3,882.3 666.4,880.7 666.5,879.0 666.7,877.2 666.8,875.4 666.9,873.6 667.0,871.9 667.2,870.3 667.3,868.8 667.3,867.6 667.4,866.7" fill="none" stroke="#5555ff" stroke-width="2.4" stroke-linejoin="round" stroke-linecap="round"/><circle cx="171.3" cy="812.4" r="6.0" fill="#5555ff"/><circle cx="174.8" cy="847.0" r="6.0" fill="#5555ff"/><circle cx="181.4" cy="891.5" r="6.0" fill="#5555ff"/><circle cx="193.0" cy="919.0" r="6.0" fill="#5555ff"/><circle cx="209.0" cy="954.5" r="6.0" fill="#5555ff"/><circle cx="230.7" cy="977.0" r="6.0" fill="#5555ff"/><circle cx="269.5" cy="1011.0" r="6.0" fill="#5555ff"/><circle cx="321.0" cy="1045.7" r="6.0" fill="#5555ff"/><circle cx="385.4" cy="1065.3" r="6.0" fill="#5555ff"/><circle cx="513.6" cy="1077.4" r="6.0" fill="#5555ff"/><circle cx="558.0" cy="1069.6" r="6.0" fill="#5555ff"/><circle cx="589.4" cy="1053.0" r="6.0" fill="#5555ff"/><circle cx="609.5" cy="1037.3" r="6.0" fill="#5555ff"/><circle cx="624.0" cy="1022.8" r="6.0" fill="#5555ff"/><circle cx="633.0" cy="1008.3" r="6.0" fill="#5555ff"/><circle cx="641.8" cy="988.0" r="6.0" fill="#5555ff"/><circle cx="651.8" cy="963.7" r="6.0" fill="#5555ff"/><circle cx="659.6" cy="942.5" r="6.0" fill="#5555ff"/><circle cx="663.0" cy="908.0" r="6.0" fill="#5555ff"/><circle cx="665.2" cy="896.8" r="6.0" fill="#5555ff"/><circle cx="666.3" cy="882.3" r="6.0" fill="#5555ff"/><circle cx="667.4" cy="866.7" r="6.0" fill="#5555ff"/><polyline points="175.3,788.0 175.5,791.6 175.7,796.3 176.0,802.0 176.4,808.4 176.7,815.1 177.1,822.0 177.5,828.8 177.9,835.3 178.4,841.1 178.8,846.0 179.2,850.1 179.7,853.8 180.2,857.0 180.7,860.0 181.2,862.7 181.7,865.3 182.2,867.8 182.8,870.4 183.4,873.1 184.0,876.0 184.6,879.1 185.2,882.2 185.8,885.4 186.4,888.6 187.1,891.8 187.8,894.9 188.5,898.0 189.4,901.0 190.3,903.9 191.4,906.6 192.6,909.2 193.8,911.8 195.2,914.2 196.6,916.6 198.2,918.9 199.7,921.1 201.4,923.2 203.0,925.3 204.7,927.2 206.5,929.0 208.3,930.7 210.3,932.2 212.3,933.5 214.5,934.8 216.6,936.0 218.7,937.1 220.9,938.2 222.9,939.4 224.9,940.7 226.7,942.0 228.3,943.3 229.5,944.3 230.5,945.3 231.4,946.2 232.4,947.2 233.5,948.4 234.9,949.9 236.6,951.7 238.9,954.1 241.8,957.0 245.3,960.6 249.1,964.8 253.3,969.6 257.9,974.7 262.8,980.1 268.0,985.7 273.6,991.3 279.4,996.8 285.6,1002.1 292.0,1007.0 299.0,1011.8 306.6,1016.7 314.8,1021.7 323.3,1026.6 332.1,1031.5 340.9,1036.1 349.5,1040.6 357.8,1044.7 365.6,1048.4 372.8,1051.7 379.4,1054.5 385.5,1056.8 391.3,1058.7 396.8,1060.3 402.1,1061.7 407.3,1062.9 412.4,1064.1 417.5,1065.2 422.7,1066.4 428.0,1067.8 433.4,1069.3 438.8,1070.7 444.2,1072.1 449.6,1073.5 454.9,1074.9 460.3,1076.2 465.5,1077.5 470.8,1078.7 475.9,1079.9 481.0,1081.0 486.1,1082.1 491.1,1083.2 496.1,1084.2 501.1,1085.2 506.0,1086.2 510.8,1087.1 515.6,1087.9 520.2,1088.6 524.7,1089.2 529.0,1089.7 533.2,1090.1 537.3,1090.4 541.2,1090.7 545.0,1090.9 548.8,1090.9 552.4,1090.9 555.9,1090.8 559.4,1090.6 562.7,1090.2 566.0,1089.7 569.2,1089.1 572.3,1088.3 575.3,1087.4 578.2,1086.4 581.0,1085.4 583.8,1084.2 586.4,1082.9 589.0,1081.5 591.4,1080.0 593.8,1078.5 596.1,1076.9 598.3,1075.1 600.4,1073.3 602.4,1071.3 604.3,1069.3 606.1,1067.2 607.9,1065.1 609.6,1062.9 611.2,1060.7 612.8,1058.5 614.3,1056.2 615.7,1053.9 617.0,1051.5 618.3,1049.1 619.5,1046.6 620.6,1044.1 621.7,1041.6 622.8,1039.0 623.9,1036.5 625.0,1034.0 626.1,1031.4 627.2,1028.8 628.3,1026.1 629.3,1023.4 630.3,1020.7 631.3,1018.1 632.3,1015.5 633.2,1013.0 634.1,1010.6 635.0,1008.3 635.8,1006.2 636.6,1004.2 637.4,1002.3 638.1,1000.5 638.8,998.7 639.4,997.0 640.0,995.3 640.6,993.7 641.2,992.1 641.8,990.5 642.3,988.9 642.8,987.4 643.3,986.0 643.7,984.6 644.1,983.2 644.5,981.8 644.9,980.4 645.4,979.0 645.8,977.5 646.2,976.0 646.7,974.4 647.1,972.7 647.6,971.0 648.1,969.3 648.6,967.6 649.1,965.8 649.5,964.1 649.9,962.3 650.3,960.6 650.7,959.0 651.0,957.4 651.3,955.9 651.6,954.4 651.8,952.9 652.1,951.5 652.3,950.0 652.5,948.5 652.7,946.9 652.8,945.3 653.0,943.6 653.1,941.8 653.3,940.0 653.4,938.1 653.4,936.2 653.5,934.2 653.6,932.2 653.7,930.2 653.8,928.0 653.9,925.8 654.0,923.6 654.2,921.2 654.3,918.7 654.5,916.1 654.8,913.4 655.0,910.7 655.2,908.0 655.4,905.3 655.6,902.7 655.8,900.3 656.0,898.0 656.2,895.9 656.3,893.9 656.5,892.0 656.6,890.2 656.8,888.4 656.9,886.7 657.0,885.1 657.1,883.4 657.3,881.7 657.4,880.0 657.5,878.2 657.7,876.3 657.8,874.4 657.9,872.5 658.0,870.6 658.2,868.8 658.3,867.1 658.4,865.6 658.4,864.4 658.5,863.4" fill="none" stroke="#ff8000" stroke-width="2.4" stroke-linejoin="round" stroke-linecap="round"/><polygon points="175.3,780.4 182.6,793.4 168.1,793.4" fill="#ff8000"/><polygon points="178.8,838.4 186.1,851.4 171.6,851.4" fill="#ff8000"/><polygon points="184.0,868.4 191.2,881.4 176.8,881.4" fill="#ff8000"/><polygon points="191.4,899.0 198.7,912.0 184.2,912.0" fill="#ff8000"/><polygon points="206.5,921.4 213.8,934.4 199.2,934.4" fill="#ff8000"/><polygon points="226.7,934.4 233.9,947.4 219.4,947.4" fill="#ff8000"/><polygon points="241.8,949.4 249.1,962.4 234.6,962.4" fill="#ff8000"/><polygon points="292.0,999.4 299.2,1012.4 284.8,1012.4" fill="#ff8000"/><polygon points="372.8,1044.1 380.1,1057.1 365.6,1057.1" fill="#ff8000"/><polygon points="428.0,1060.2 435.2,1073.2 420.8,1073.2" fill="#ff8000"/><polygon points="481.0,1073.4 488.2,1086.4 473.8,1086.4" fill="#ff8000"/><polygon points="529.0,1082.1 536.2,1095.1 521.8,1095.1" fill="#ff8000"/><polygon points="566.0,1082.1 573.2,1095.1 558.8,1095.1" fill="#ff8000"/><polygon points="593.8,1070.9 601.0,1083.9 586.5,1083.9" fill="#ff8000"/><polygon points="612.8,1050.9 620.0,1063.9 605.5,1063.9" fill="#ff8000"/><polygon points="625.0,1026.4 632.2,1039.4 617.8,1039.4" fill="#ff8000"/><polygon points="635.0,1000.7 642.2,1013.7 627.8,1013.7" fill="#ff8000"/><polygon points="641.8,982.9 649.0,995.9 634.5,995.9" fill="#ff8000"/><polygon points="646.2,968.4 653.5,981.4 639.0,981.4" fill="#ff8000"/><polygon points="650.7,951.4 658.0,964.4 643.5,964.4" fill="#ff8000"/><polygon points="653.0,936.0 660.2,949.0 645.8,949.0" fill="#ff8000"/><polygon points="654.0,916.0 661.2,929.0 646.8,929.0" fill="#ff8000"/><polygon points="656.0,890.4 663.2,903.4 648.8,903.4" fill="#ff8000"/><polygon points="657.4,872.4 664.6,885.4 650.1,885.4" fill="#ff8000"/><polygon points="658.5,855.8 665.8,868.8 651.2,868.8" fill="#ff8000"/><polyline points="178.8,755.0 178.8,756.2 178.9,757.9 178.9,759.8 178.9,762.0 179.0,764.3 179.0,766.7 179.1,769.1 179.2,771.4 179.2,773.6 179.3,775.5 179.4,777.2 179.5,778.9 179.6,780.5 179.7,782.1 179.8,783.6 179.9,785.0 180.0,786.5 180.1,787.9 180.3,789.2 180.4,790.6 180.5,791.9 180.7,793.0 180.9,794.1 181.0,795.1 181.2,796.2 181.4,797.2 181.5,798.4 181.7,799.6 181.9,801.0 182.0,802.5 182.1,804.2 182.2,806.2 182.3,808.2 182.4,810.3 182.5,812.6 182.6,814.8 182.6,817.1 182.7,819.3 182.9,821.5 183.0,823.6 183.1,825.6 183.3,827.6 183.4,829.6 183.6,831.5 183.8,833.5 183.9,835.4 184.1,837.4 184.4,839.4 184.7,841.4 185.0,843.5 185.4,845.6 185.8,847.8 186.3,849.9 186.8,852.1 187.3,854.3 187.9,856.5 188.4,858.8 189.0,861.1 189.5,863.5 190.0,866.0 190.5,868.6 190.9,871.3 191.4,874.1 191.8,876.9 192.2,879.8 192.7,882.7 193.2,885.5 193.7,888.3 194.3,891.0 195.0,893.6 195.7,896.1 196.5,898.5 197.2,900.9 198.1,903.3 198.9,905.6 199.8,907.8 200.8,910.0 201.8,912.1 202.9,914.1 204.0,916.0 205.2,917.8 206.5,919.4 207.9,920.9 209.3,922.3 210.8,923.6 212.3,925.0 213.7,926.3 215.2,927.8 216.6,929.3 218.0,931.0 219.3,932.8 220.4,934.5 221.5,936.3 222.6,938.2 223.7,940.1 224.8,942.1 226.0,944.2 227.4,946.4 228.9,948.9 230.6,951.5 232.6,954.4 234.8,957.8 237.1,961.4 239.7,965.2 242.2,969.0 244.9,972.8 247.4,976.5 249.9,979.9 252.3,982.9 254.5,985.5 256.5,987.6 258.3,989.4 260.1,990.8 261.7,992.0 263.3,993.0 264.9,993.9 266.6,994.8 268.3,995.7 270.1,996.8 272.0,998.0 274.0,999.3 276.1,1000.6 278.1,1001.9 280.3,1003.2 282.4,1004.5 284.7,1005.9 287.1,1007.3 289.5,1008.8 292.1,1010.4 294.8,1012.0 297.7,1013.8 300.7,1015.7 303.9,1017.6 307.1,1019.7 310.5,1021.8 313.9,1023.9 317.4,1026.0 320.8,1028.1 324.2,1030.1 327.6,1032.0 330.9,1033.9 334.2,1035.7 337.4,1037.4 340.6,1039.2 343.9,1040.9 347.2,1042.6 350.6,1044.4 354.1,1046.1 357.8,1047.9 361.6,1049.7 365.6,1051.6 369.7,1053.5 374.0,1055.5 378.4,1057.4 382.9,1059.4 387.4,1061.4 392.0,1063.3 396.6,1065.2 401.1,1066.9 405.7,1068.6 410.3,1070.2 414.9,1071.6 419.5,1073.0 424.2,1074.4 428.8,1075.7 433.5,1076.9 438.2,1078.2 442.9,1079.4 447.6,1080.6 452.3,1081.9 457.0,1083.2 461.7,1084.4 466.4,1085.6 471.2,1086.8 475.9,1087.9 480.6,1089.1 485.3,1090.3 489.9,1091.5 494.5,1092.7 499.0,1094.0 503.5,1095.3 507.9,1096.5 512.3,1097.7 516.7,1099.0 521.0,1100.2 525.3,1101.5 529.5,1102.9 533.6,1104.3 537.5,1105.9 541.4,1107.5 545.2,1109.3 548.9,1111.4 552.5,1113.6 556.1,1115.9 559.5,1118.2 562.9,1120.5 566.1,1122.7 569.2,1124.7 572.2,1126.5 575.0,1128.0 577.6,1129.3 580.1,1130.4 582.4,1131.4 584.5,1132.2 586.6,1132.9 588.5,1133.4 590.4,1133.9 592.3,1134.2 594.1,1134.4 596.0,1134.5 597.8,1134.5 599.6,1134.3 601.3,1134.0 602.9,1133.5 604.5,1133.0 606.1,1132.3 607.6,1131.6 609.2,1130.8 610.8,1129.9 612.4,1129.0 614.1,1128.0 615.8,1126.9 617.5,1125.7 619.3,1124.5 621.0,1123.2 622.7,1121.8 624.3,1120.4 625.9,1118.9 627.3,1117.5 628.6,1116.0 629.8,1114.5 630.8,1113.1 631.8,1111.5 632.6,1110.0 633.4,1108.4 634.2,1106.8 634.9,1105.2 635.6,1103.5 636.3,1101.8 637.0,1100.0 637.7,1098.2 638.4,1096.4 639.0,1094.6 639.7,1092.8 640.3,1090.9 640.9,1088.9 641.4,1086.9 642.0,1084.7 642.5,1082.4 643.0,1080.0 643.5,1077.4 643.9,1074.6 644.4,1071.7 644.8,1068.7 645.2,1065.6 645.6,1062.5 645.9,1059.3 646.3,1056.2 646.6,1053.0 647.0,1050.0 647.3,1047.0 647.7,1044.0 648.0,1041.0 648.3,1038.0 648.6,1035.0 648.9,1032.0 649.2,1029.0 649.4,1026.0 649.7,1023.0 650.0,1020.0 650.3,1017.0 650.5,1014.1 650.8,1011.2 651.0,1008.2 651.3,1005.3 651.5,1002.4 651.8,999.4 652.0,996.3 652.3,993.2 652.5,990.0 652.8,986.6 653.0,983.1 653.3,979.4 653.5,975.6 653.8,971.9 654.0,968.2 654.3,964.6 654.5,961.1 654.8,957.9 655.0,955.0 655.2,952.4 655.5,950.0 655.7,947.7 656.0,945.7 656.2,943.8 656.4,941.9 656.7,940.2 656.9,938.4 657.2,936.7 657.4,935.0 657.7,933.2 657.9,931.4 658.2,929.7 658.6,927.9 658.8,926.2 659.1,924.7 659.4,923.2 659.6,922.0 659.8,920.9 660.0,920.0" fill="none" stroke="#ff2424" stroke-width="2.4" stroke-linejoin="round" stroke-linecap="round"/><polygon points="178.8,762.6 186.1,749.6 171.6,749.6" fill="#ff2424"/><polygon points="179.3,783.1 186.6,770.1 172.1,770.1" fill="#ff2424"/><polygon points="180.4,798.2 187.7,785.2 173.2,785.2" fill="#ff2424"/><polygon points="182.0,810.1 189.2,797.1 174.8,797.1" fill="#ff2424"/><polygon points="183.0,831.2 190.2,818.2 175.8,818.2" fill="#ff2424"/><polygon points="185.0,851.1 192.2,838.1 177.8,838.1" fill="#ff2424"/><polygon points="190.0,873.6 197.2,860.6 182.8,860.6" fill="#ff2424"/><polygon points="195.0,901.2 202.2,888.2 187.8,888.2" fill="#ff2424"/><polygon points="204.0,923.6 211.2,910.6 196.8,910.6" fill="#ff2424"/><polygon points="218.0,938.6 225.2,925.6 210.8,925.6" fill="#ff2424"/><polygon points="230.6,959.1 237.8,946.1 223.3,946.1" fill="#ff2424"/><polygon points="254.5,993.1 261.8,980.1 247.2,980.1" fill="#ff2424"/><polygon points="272.0,1005.6 279.2,992.6 264.8,992.6" fill="#ff2424"/><polygon points="294.8,1019.6 302.1,1006.6 287.6,1006.6" fill="#ff2424"/><polygon points="327.6,1039.6 334.9,1026.6 320.4,1026.6" fill="#ff2424"/><polygon points="361.6,1057.3 368.9,1044.3 354.4,1044.3" fill="#ff2424"/><polygon points="405.7,1076.2 412.9,1063.2 398.4,1063.2" fill="#ff2424"/><polygon points="452.3,1089.5 459.6,1076.5 445.1,1076.5" fill="#ff2424"/><polygon points="499.0,1101.6 506.2,1088.6 491.8,1088.6" fill="#ff2424"/><polygon points="541.4,1115.1 548.6,1102.1 534.1,1102.1" fill="#ff2424"/><polygon points="574.9,1139.6 582.1,1126.6 567.6,1126.6" fill="#ff2424"/><polygon points="601.6,1149.6 608.9,1136.6 594.4,1136.6" fill="#ff2424"/><polygon points="643.0,1112.9 650.2,1099.9 635.8,1099.9" fill="#ff2424"/><polygon points="649.6,1034.9 656.9,1021.9 642.4,1021.9" fill="#ff2424"/><polygon points="653.0,994.6 660.2,981.6 645.8,981.6" fill="#ff2424"/><polygon points="655.0,961.3 662.2,948.3 647.8,948.3" fill="#ff2424"/><polygon points="657.4,942.3 664.6,929.3 650.1,929.3" fill="#ff2424"/><polygon points="659.6,931.2 666.9,918.2 652.4,918.2" fill="#ff2424"/><g stroke="#4a4a4a" stroke-width="2.2"><line x1="934.9" y1="1193.8" x2="940.4" y2="1193.8"/><line x1="934.9" y1="1182.2" x2="940.4" y2="1182.2"/><line x1="934.9" y1="1172.7" x2="940.4" y2="1172.7"/><line x1="934.9" y1="1164.7" x2="940.4" y2="1164.7"/><line x1="934.9" y1="1157.8" x2="940.4" y2="1157.8"/><line x1="934.9" y1="1151.7" x2="940.4" y2="1151.7"/><line x1="929.9" y1="1146.2" x2="940.4" y2="1146.2"/><line x1="934.9" y1="1110.2" x2="940.4" y2="1110.2"/><line x1="934.9" y1="1089.1" x2="940.4" y2="1089.1"/><line x1="934.9" y1="1074.2" x2="940.4" y2="1074.2"/><line x1="934.9" y1="1062.6" x2="940.4" y2="1062.6"/><line x1="934.9" y1="1053.1" x2="940.4" y2="1053.1"/><line x1="934.9" y1="1045.1" x2="940.4" y2="1045.1"/><line x1="934.9" y1="1038.2" x2="940.4" y2="1038.2"/><line x1="934.9" y1="1032.1" x2="940.4" y2="1032.1"/><line x1="929.9" y1="1026.6" x2="940.4" y2="1026.6"/><line x1="934.9" y1="990.6" x2="940.4" y2="990.6"/><line x1="934.9" y1="969.5" x2="940.4" y2="969.5"/><line x1="934.9" y1="954.6" x2="940.4" y2="954.6"/><line x1="934.9" y1="943.0" x2="940.4" y2="943.0"/><line x1="934.9" y1="933.5" x2="940.4" y2="933.5"/><line x1="934.9" y1="925.5" x2="940.4" y2="925.5"/><line x1="934.9" y1="918.6" x2="940.4" y2="918.6"/><line x1="934.9" y1="912.5" x2="940.4" y2="912.5"/><line x1="929.9" y1="907.0" x2="940.4" y2="907.0"/><line x1="934.9" y1="871.0" x2="940.4" y2="871.0"/><line x1="934.9" y1="849.9" x2="940.4" y2="849.9"/><line x1="934.9" y1="835.0" x2="940.4" y2="835.0"/><line x1="934.9" y1="823.4" x2="940.4" y2="823.4"/><line x1="934.9" y1="813.9" x2="940.4" y2="813.9"/><line x1="934.9" y1="805.9" x2="940.4" y2="805.9"/><line x1="934.9" y1="799.0" x2="940.4" y2="799.0"/><line x1="934.9" y1="792.9" x2="940.4" y2="792.9"/><line x1="929.9" y1="787.4" x2="940.4" y2="787.4"/><line x1="934.9" y1="751.4" x2="940.4" y2="751.4"/><line x1="934.9" y1="730.3" x2="940.4" y2="730.3"/><line x1="970.2" y1="1208.4" x2="970.2" y2="1218.4"/><line x1="1091.8" y1="1208.4" x2="1091.8" y2="1218.4"/><line x1="1213.5" y1="1208.4" x2="1213.5" y2="1218.4"/><line x1="1335.2" y1="1208.4" x2="1335.2" y2="1218.4"/><line x1="1456.8" y1="1208.4" x2="1456.8" y2="1218.4"/></g><rect x="940.4" y="715.6" width="547.0" height="492.8" fill="none" stroke="#4a4a4a" stroke-width="2.4"/><text x="970.2" y="1257.3" font-size="32" text-anchor="middle">0</text><text x="1091.8" y="1257.3" font-size="32" text-anchor="middle">200</text><text x="1213.5" y="1257.3" font-size="32" text-anchor="middle">400</text><text x="1335.2" y="1257.3" font-size="32" text-anchor="middle">600</text><text x="1456.8" y="1257.3" font-size="32" text-anchor="middle">800</text><text x="895.1" y="1159.0" font-size="33" text-anchor="end">10</text><text x="894.9" y="1141.8" font-size="22">14</text><text x="895.1" y="1039.4" font-size="33" text-anchor="end">10</text><text x="894.9" y="1022.2" font-size="22">15</text><text x="895.1" y="919.8" font-size="33" text-anchor="end">10</text><text x="894.9" y="902.6" font-size="22">16</text><text x="895.1" y="800.2" font-size="33" text-anchor="end">10</text><text x="894.9" y="783.0" font-size="22">17</text><polyline points="1024.6,1195.0 1025.3,1192.9 1026.1,1190.2 1027.0,1187.1 1028.1,1183.5 1029.3,1179.7 1030.6,1175.7 1031.9,1171.6 1033.2,1167.6 1034.6,1163.7 1036.0,1160.0 1037.4,1156.4 1038.9,1152.7 1040.4,1148.9 1042.0,1145.1 1043.6,1141.4 1045.2,1137.7 1046.9,1134.2 1048.6,1130.8 1050.3,1127.8 1052.0,1125.0 1053.7,1122.5 1055.4,1120.3 1057.2,1118.4 1058.9,1116.6 1060.7,1114.9 1062.5,1113.4 1064.3,1112.0 1066.2,1110.7 1068.1,1109.3 1070.0,1108.0 1071.9,1106.7 1073.7,1105.5 1075.5,1104.3 1077.3,1103.2 1079.2,1102.2 1081.2,1101.2 1083.3,1100.3 1085.6,1099.5 1088.2,1098.7 1091.0,1098.0 1094.2,1097.3 1097.8,1096.7 1101.8,1096.0 1105.9,1095.5 1110.1,1095.0 1114.4,1094.6 1118.6,1094.3 1122.7,1094.1 1126.5,1094.0 1130.0,1094.0 1133.2,1094.2 1136.2,1094.4 1139.1,1094.8 1141.9,1095.2 1144.5,1095.8 1147.1,1096.5 1149.6,1097.2 1152.0,1098.1 1154.5,1099.0 1157.0,1100.0 1159.5,1101.1 1161.9,1102.3 1164.3,1103.5 1166.6,1104.9 1168.9,1106.3 1171.2,1107.8 1173.4,1109.5 1175.7,1111.2 1177.8,1113.1 1180.0,1115.0 1182.1,1117.1 1184.2,1119.4 1186.2,1121.8 1188.2,1124.4 1190.2,1127.0 1192.1,1129.7 1194.1,1132.3 1196.0,1135.0 1198.0,1137.5 1200.0,1140.0 1202.0,1142.4 1204.0,1144.9 1206.0,1147.4 1208.0,1149.9 1210.0,1152.4 1212.0,1154.8 1214.0,1157.0 1216.0,1159.2 1218.0,1161.2 1220.0,1163.0 1222.0,1164.6 1224.0,1166.1 1225.9,1167.5 1227.9,1168.7 1229.9,1169.8 1231.9,1170.8 1233.9,1171.7 1235.9,1172.6 1237.9,1173.3 1240.0,1174.0 1242.1,1174.6 1244.3,1175.1 1246.5,1175.5 1248.7,1175.7 1250.9,1175.9 1253.1,1176.1 1255.3,1176.1 1257.5,1176.1 1259.6,1176.1 1261.6,1176.0 1263.6,1175.9 1265.4,1175.6 1267.3,1175.4 1269.1,1175.0 1270.8,1174.6 1272.6,1174.2 1274.4,1173.7 1276.2,1173.2 1278.1,1172.6 1280.0,1172.0 1281.9,1171.4 1283.6,1170.9 1285.3,1170.4 1287.0,1169.9 1288.8,1169.2 1290.7,1168.5 1292.8,1167.7 1295.1,1166.7 1297.8,1165.5 1300.8,1164.0 1304.3,1162.4 1308.2,1160.7 1312.5,1159.0 1317.1,1157.0 1321.8,1154.9 1326.6,1152.6 1331.4,1150.0 1336.0,1147.0 1340.5,1143.7 1344.6,1140.0 1348.5,1135.8 1352.3,1131.1 1356.0,1126.0 1359.6,1120.6 1363.1,1114.9 1366.6,1109.1 1369.9,1103.1 1373.2,1097.0 1376.3,1091.0 1379.4,1085.0 1382.4,1078.9 1385.3,1072.4 1388.1,1065.7 1390.8,1058.9 1393.4,1052.1 1396.0,1045.4 1398.4,1038.9 1400.7,1032.7 1402.9,1027.1 1405.0,1022.0 1406.9,1017.5 1408.7,1013.6 1410.4,1010.0 1411.9,1006.8 1413.3,1003.8 1414.7,1001.0 1416.1,998.3 1417.4,995.6 1418.7,992.9 1420.0,990.0 1421.3,987.1 1422.6,984.3 1423.9,981.6 1425.1,978.9 1426.3,976.3 1427.5,973.7 1428.6,970.9 1429.8,968.1 1430.9,965.1 1432.0,962.0 1433.1,958.7 1434.2,955.2 1435.3,951.7 1436.3,948.0 1437.4,944.2 1438.4,940.4 1439.4,936.6 1440.3,932.7 1441.2,928.9 1442.0,925.0 1442.8,921.1 1443.5,917.3 1444.2,913.4 1444.8,909.5 1445.4,905.5 1445.9,901.5 1446.5,897.5 1447.0,893.4 1447.5,889.2 1448.0,885.0 1448.5,880.6 1449.0,876.0 1449.4,871.2 1449.8,866.4 1450.2,861.6 1450.6,856.8 1451.0,852.2 1451.4,847.8 1451.7,843.7 1452.0,840.0 1452.3,836.6 1452.6,833.3 1452.8,830.2 1453.0,827.4 1453.2,824.7 1453.4,822.2 1453.6,820.0 1453.8,818.1 1453.9,816.4 1454.0,815.0" fill="none" stroke="#000080" stroke-width="2.4" stroke-linejoin="round" stroke-linecap="round"/><rect x="1019.3" y="1189.8" width="10.5" height="10.5" fill="#000080"/><rect x="1043.5" y="1121.8" width="10.5" height="10.5" fill="#000080"/><rect x="1079.8" y="1097.8" width="10.5" height="10.5" fill="#000080"/><rect x="1125.2" y="1085.5" width="10.5" height="10.5" fill="#000080"/><rect x="1238.5" y="1182.5" width="10.5" height="10.5" fill="#000080"/><rect x="1295.5" y="1158.5" width="10.5" height="10.5" fill="#000080"/><rect x="1339.3" y="1134.2" width="10.5" height="10.5" fill="#000080"/><rect x="1374.2" y="1076.8" width="10.5" height="10.5" fill="#000080"/><rect x="1399.8" y="1015.0" width="10.5" height="10.5" fill="#000080"/><rect x="1418.0" y="981.5" width="10.5" height="10.5" fill="#000080"/><rect x="1427.0" y="956.4" width="10.5" height="10.5" fill="#000080"/><rect x="1434.2" y="938.4" width="10.5" height="10.5" fill="#000080"/><rect x="1438.7" y="916.8" width="10.5" height="10.5" fill="#000080"/><rect x="1439.5" y="898.8" width="10.5" height="10.5" fill="#000080"/><rect x="1442.2" y="884.4" width="10.5" height="10.5" fill="#000080"/><rect x="1445.8" y="868.1" width="10.5" height="10.5" fill="#000080"/><rect x="1446.8" y="855.5" width="10.5" height="10.5" fill="#000080"/><rect x="1448.5" y="834.0" width="10.5" height="10.5" fill="#000080"/><rect x="1448.5" y="817.8" width="10.5" height="10.5" fill="#000080"/><polyline points="970.2,920.0 970.5,921.6 970.9,923.5 971.3,925.7 971.8,928.2 972.3,931.0 972.9,934.1 973.6,937.4 974.4,940.9 975.3,944.7 976.3,948.7 977.4,953.0 978.7,957.8 980.1,962.9 981.5,968.2 983.1,973.8 984.6,979.4 986.3,985.2 987.9,990.9 989.5,996.5 991.0,1002.0 992.5,1007.5 994.0,1013.3 995.5,1019.2 997.0,1025.1 998.5,1031.0 1000.1,1036.7 1001.6,1042.2 1003.2,1047.3 1004.8,1051.9 1006.5,1056.0 1008.2,1059.5 1009.9,1062.6 1011.6,1065.2 1013.4,1067.5 1015.2,1069.5 1017.0,1071.3 1018.8,1072.8 1020.7,1074.3 1022.6,1075.7 1024.6,1077.0 1026.6,1078.2 1028.6,1079.2 1030.6,1079.9 1032.7,1080.5 1034.7,1081.0 1036.9,1081.4 1039.1,1081.7 1041.3,1082.1 1043.6,1082.5 1046.0,1083.0 1048.4,1083.6 1050.7,1084.2 1053.0,1084.8 1055.4,1085.5 1057.8,1086.1 1060.4,1086.6 1063.2,1087.1 1066.2,1087.5 1069.4,1087.8 1073.0,1088.0 1077.0,1088.0 1081.5,1087.9 1086.4,1087.7 1091.5,1087.4 1096.8,1087.0 1102.0,1086.6 1107.2,1086.2 1112.2,1085.7 1116.8,1085.3 1121.0,1085.0 1124.8,1084.7 1128.4,1084.3 1131.8,1083.9 1135.0,1083.5 1138.0,1083.1 1140.9,1082.7 1143.7,1082.4 1146.4,1082.2 1149.0,1082.0 1151.6,1082.0 1154.1,1082.1 1156.3,1082.2 1158.4,1082.3 1160.4,1082.5 1162.3,1082.8 1164.2,1083.2 1166.1,1083.7 1168.1,1084.3 1170.3,1085.1 1172.6,1086.0 1175.1,1087.1 1177.7,1088.2 1180.3,1089.5 1183.1,1091.0 1185.9,1092.5 1188.7,1094.2 1191.5,1095.9 1194.4,1097.8 1197.2,1099.9 1200.0,1102.0 1202.8,1104.4 1205.5,1107.1 1208.2,1110.0 1210.9,1113.0 1213.6,1116.1 1216.4,1119.2 1219.2,1122.3 1222.0,1125.1 1225.0,1127.7 1228.0,1130.0 1231.0,1132.1 1234.1,1134.2 1237.1,1136.3 1240.1,1138.2 1243.2,1139.9 1246.5,1141.4 1249.9,1142.6 1253.6,1143.5 1257.4,1144.0 1261.6,1144.0 1266.2,1143.5 1271.3,1142.6 1276.7,1141.3 1282.3,1139.7 1288.1,1137.8 1293.9,1135.6 1299.5,1133.2 1304.9,1130.7 1309.9,1128.1 1314.4,1125.5 1318.5,1122.7 1322.2,1119.7 1325.6,1116.6 1328.9,1113.2 1331.9,1109.7 1334.8,1106.1 1337.7,1102.4 1340.5,1098.6 1343.3,1094.8 1346.2,1091.0 1349.1,1087.1 1352.0,1083.1 1354.9,1079.0 1357.7,1074.7 1360.5,1070.5 1363.2,1066.2 1365.8,1061.8 1368.4,1057.5 1370.9,1053.2 1373.4,1049.0 1375.8,1044.7 1378.1,1040.2 1380.3,1035.6 1382.5,1031.0 1384.6,1026.4 1386.6,1022.0 1388.6,1017.8 1390.6,1013.8 1392.6,1010.2 1394.5,1007.0 1396.4,1004.3 1398.3,1002.1 1400.2,1000.3 1402.0,998.8 1403.8,997.4 1405.5,996.2 1407.2,994.9 1408.8,993.5 1410.4,991.9 1412.0,990.0 1413.5,987.8 1414.9,985.6 1416.3,983.2 1417.6,980.8 1418.8,978.3 1420.1,975.7 1421.3,973.1 1422.5,970.4 1423.8,967.7 1425.0,965.0 1426.3,962.3 1427.5,959.6 1428.8,957.0 1430.1,954.3 1431.4,951.6 1432.6,948.7 1433.8,945.6 1434.9,942.4 1436.0,938.8 1437.0,935.0 1437.9,930.8 1438.8,926.4 1439.5,921.6 1440.3,916.7 1440.9,911.6 1441.6,906.3 1442.2,901.0 1442.8,895.6 1443.4,890.3 1444.0,885.0 1444.6,879.7 1445.2,874.2 1445.7,868.7 1446.2,863.0 1446.8,857.4 1447.2,851.8 1447.7,846.2 1448.2,840.7 1448.6,835.3 1449.0,830.0 1449.4,824.7 1449.8,819.1 1450.1,813.5 1450.5,807.8 1450.8,802.4 1451.1,797.2 1451.4,792.4 1451.6,788.1 1451.8,784.5 1452.0,781.6" fill="none" stroke="#5555ff" stroke-width="2.4" stroke-linejoin="round" stroke-linecap="round"/><circle cx="970.2" cy="920.0" r="6.0" fill="#5555ff"/><circle cx="976.3" cy="948.7" r="6.0" fill="#5555ff"/><circle cx="1008.0" cy="1078.7" r="6.0" fill="#5555ff"/><circle cx="1036.7" cy="1077.2" r="6.0" fill="#5555ff"/><circle cx="1073.0" cy="1090.8" r="6.0" fill="#5555ff"/><circle cx="1119.9" cy="1086.3" r="6.0" fill="#5555ff"/><circle cx="1174.3" cy="1075.7" r="6.0" fill="#5555ff"/><circle cx="1228.3" cy="1142.5" r="6.0" fill="#5555ff"/><circle cx="1269.0" cy="1145.6" r="6.0" fill="#5555ff"/><circle cx="1314.4" cy="1127.4" r="6.0" fill="#5555ff"/><circle cx="1346.2" cy="1091.2" r="6.0" fill="#5555ff"/><circle cx="1373.4" cy="1048.9" r="6.0" fill="#5555ff"/><circle cx="1394.5" cy="1009.6" r="6.0" fill="#5555ff"/><circle cx="1412.6" cy="991.5" r="6.0" fill="#5555ff"/><circle cx="1425.0" cy="965.0" r="6.0" fill="#5555ff"/><circle cx="1433.0" cy="945.0" r="6.0" fill="#5555ff"/><circle cx="1438.0" cy="925.0" r="6.0" fill="#5555ff"/><circle cx="1441.0" cy="905.0" r="6.0" fill="#5555ff"/><circle cx="1444.0" cy="885.0" r="6.0" fill="#5555ff"/><circle cx="1446.0" cy="865.0" r="6.0" fill="#5555ff"/><circle cx="1448.0" cy="845.0" r="6.0" fill="#5555ff"/><circle cx="1450.0" cy="820.0" r="6.0" fill="#5555ff"/><circle cx="1451.0" cy="800.0" r="6.0" fill="#5555ff"/><circle cx="1452.0" cy="781.6" r="6.0" fill="#5555ff"/><polyline points="965.7,832.3 966.3,834.7 967.0,837.6 967.8,840.9 968.7,844.7 969.7,848.9 970.8,853.5 972.0,858.6 973.3,864.0 974.8,869.8 976.3,876.0 978.0,882.8 979.9,890.2 982.0,898.1 984.3,906.6 986.6,915.3 988.9,924.2 991.2,933.3 993.4,942.4 995.5,951.3 997.4,960.0 999.2,968.8 1000.9,978.0 1002.5,987.4 1004.1,996.8 1005.6,1006.2 1007.0,1015.4 1008.5,1024.3 1009.9,1032.6 1011.2,1040.2 1012.6,1047.0 1013.9,1053.0 1015.2,1058.4 1016.5,1063.2 1017.7,1067.5 1018.8,1071.4 1020.0,1074.9 1021.1,1078.2 1022.3,1081.2 1023.4,1084.1 1024.6,1087.0 1025.8,1089.7 1027.0,1092.1 1028.2,1094.3 1029.4,1096.2 1030.5,1097.9 1031.7,1099.4 1032.8,1100.7 1033.9,1101.9 1035.0,1103.0 1036.0,1104.0 1036.9,1104.9 1037.7,1105.6 1038.4,1106.2 1039.0,1106.6 1039.7,1106.9 1040.3,1107.1 1041.1,1107.0 1041.9,1106.9 1042.9,1106.5 1044.0,1106.0 1045.3,1105.3 1046.7,1104.3 1048.3,1103.1 1049.9,1101.7 1051.7,1100.2 1053.4,1098.6 1055.2,1096.9 1057.0,1095.2 1058.8,1093.6 1060.6,1092.0 1062.3,1090.4 1064.0,1088.7 1065.6,1086.9 1067.3,1085.1 1069.0,1083.2 1070.7,1081.4 1072.6,1079.7 1074.5,1078.0 1076.7,1076.4 1079.0,1075.0 1081.6,1073.7 1084.4,1072.3 1087.3,1071.1 1090.5,1069.9 1093.7,1068.8 1096.9,1067.7 1100.1,1066.8 1103.2,1066.1 1106.2,1065.4 1109.0,1065.0 1111.6,1064.7 1114.2,1064.6 1116.6,1064.6 1119.0,1064.7 1121.3,1065.0 1123.6,1065.4 1125.9,1065.9 1128.2,1066.5 1130.6,1067.2 1133.0,1068.0 1135.5,1068.9 1138.0,1070.0 1140.5,1071.2 1143.0,1072.6 1145.5,1074.0 1148.0,1075.5 1150.5,1077.1 1153.0,1078.7 1155.5,1080.3 1158.0,1082.0 1160.4,1083.7 1162.9,1085.6 1165.3,1087.6 1167.7,1089.6 1170.1,1091.7 1172.5,1093.7 1174.9,1095.7 1177.3,1097.6 1179.6,1099.4 1182.0,1101.0 1184.3,1102.5 1186.6,1103.8 1188.8,1105.1 1191.0,1106.3 1193.2,1107.5 1195.4,1108.5 1197.7,1109.5 1200.0,1110.4 1202.5,1111.2 1205.0,1112.0 1207.6,1112.7 1210.3,1113.3 1213.0,1113.9 1215.8,1114.4 1218.7,1114.8 1221.6,1115.2 1224.6,1115.4 1227.7,1115.5 1230.8,1115.5 1234.0,1115.4 1237.3,1115.2 1240.9,1114.8 1244.5,1114.4 1248.2,1113.8 1252.0,1113.2 1255.7,1112.4 1259.5,1111.5 1263.1,1110.5 1266.6,1109.3 1270.0,1108.0 1273.2,1106.6 1276.2,1105.2 1279.1,1103.6 1281.9,1102.0 1284.6,1100.2 1287.4,1098.2 1290.2,1096.0 1293.1,1093.6 1296.1,1090.9 1299.3,1088.0 1302.7,1084.6 1306.3,1080.8 1310.0,1076.5 1313.8,1072.1 1317.6,1067.4 1321.4,1062.8 1325.2,1058.2 1328.8,1053.8 1332.3,1049.7 1335.6,1046.0 1338.7,1042.7 1341.6,1039.5 1344.3,1036.5 1346.9,1033.7 1349.5,1031.0 1352.0,1028.4 1354.6,1026.0 1357.2,1023.6 1359.9,1021.3 1362.8,1019.0 1365.8,1016.8 1369.0,1014.8 1372.4,1012.9 1375.7,1011.1 1379.1,1009.3 1382.5,1007.6 1385.7,1006.0 1388.9,1004.3 1391.8,1002.7 1394.5,1001.0 1397.0,999.4 1399.3,997.8 1401.5,996.3 1403.6,994.9 1405.6,993.4 1407.5,992.0 1409.2,990.4 1410.9,988.7 1412.5,987.0 1414.0,985.0 1415.4,982.9 1416.6,980.7 1417.7,978.5 1418.7,976.1 1419.6,973.7 1420.5,971.2 1421.3,968.5 1422.2,965.8 1423.1,962.9 1424.0,960.0 1425.0,957.0 1426.0,954.0 1427.0,950.9 1428.1,947.7 1429.1,944.4 1430.1,940.9 1431.1,937.3 1432.0,933.4 1432.9,929.4 1433.8,925.0 1434.6,920.3 1435.4,915.2 1436.2,909.8 1437.0,904.2 1437.7,898.4 1438.4,892.6 1439.1,886.8 1439.7,881.0 1440.4,875.4 1441.0,870.0 1441.6,864.7 1442.2,859.4 1442.7,854.0 1443.3,848.7 1443.8,843.4 1444.2,838.3 1444.7,833.4 1445.2,828.6 1445.6,824.2 1446.0,820.0 1446.4,816.1 1446.8,812.2 1447.1,808.6 1447.5,805.1 1447.8,801.9 1448.1,798.9 1448.4,796.2 1448.6,793.8 1448.8,791.7 1449.0,790.0" fill="none" stroke="#ff8000" stroke-width="2.4" stroke-linejoin="round" stroke-linecap="round"/><polygon points="965.7,824.7 973.0,837.7 958.5,837.7" fill="#ff8000"/><polygon points="976.3,868.4 983.5,881.4 969.0,881.4" fill="#ff8000"/><polygon points="997.4,956.2 1004.6,969.2 990.1,969.2" fill="#ff8000"/><polygon points="1024.6,1080.2 1031.8,1093.2 1017.3,1093.2" fill="#ff8000"/><polygon points="1045.8,1108.9 1053.0,1121.9 1038.5,1121.9" fill="#ff8000"/><polygon points="1080.6,1060.4 1087.8,1073.4 1073.3,1073.4" fill="#ff8000"/><polygon points="1129.0,1049.9 1136.2,1062.9 1121.8,1062.9" fill="#ff8000"/><polygon points="1184.9,1096.8 1192.2,1109.8 1177.7,1109.8" fill="#ff8000"/><polygon points="1245.0,1115.4 1252.2,1128.4 1237.8,1128.4" fill="#ff8000"/><polygon points="1299.3,1082.1 1306.5,1095.1 1292.0,1095.1" fill="#ff8000"/><polygon points="1335.6,1038.3 1342.8,1051.3 1328.3,1051.3" fill="#ff8000"/><polygon points="1362.8,1014.1 1370.0,1027.1 1355.5,1027.1" fill="#ff8000"/><polygon points="1382.4,1002.0 1389.7,1015.0 1375.2,1015.0" fill="#ff8000"/><polygon points="1394.5,994.4 1401.8,1007.4 1387.2,1007.4" fill="#ff8000"/><polygon points="1405.0,986.9 1412.2,999.9 1397.8,999.9" fill="#ff8000"/><polygon points="1414.0,977.8 1421.2,990.8 1406.8,990.8" fill="#ff8000"/><polygon points="1421.7,956.7 1429.0,969.7 1414.5,969.7" fill="#ff8000"/><polygon points="1427.7,941.6 1435.0,954.6 1420.5,954.6" fill="#ff8000"/><polygon points="1433.8,917.4 1441.0,930.4 1426.5,930.4" fill="#ff8000"/><polygon points="1438.3,893.2 1445.5,906.2 1431.0,906.2" fill="#ff8000"/><polygon points="1441.3,866.1 1448.5,879.1 1434.0,879.1" fill="#ff8000"/><polygon points="1444.3,838.9 1451.5,851.9 1437.0,851.9" fill="#ff8000"/><polygon points="1447.4,811.7 1454.7,824.7 1440.2,824.7" fill="#ff8000"/><polygon points="1448.9,784.4 1456.2,797.4 1441.7,797.4" fill="#ff8000"/><polyline points="970.2,855.0 970.4,852.9 970.6,850.1 970.9,846.7 971.2,843.0 971.5,839.0 971.9,835.0 972.2,831.1 972.6,827.5 973.0,824.4 973.3,822.0 973.6,820.1 974.0,818.5 974.3,817.1 974.6,816.0 975.0,815.2 975.3,814.6 975.7,814.1 976.1,813.9 976.5,813.9 977.0,814.0 977.5,814.3 978.1,814.9 978.6,815.7 979.3,816.7 979.9,817.9 980.5,819.2 981.2,820.7 981.8,822.4 982.4,824.1 983.0,826.0 983.6,827.9 984.2,829.7 984.7,831.6 985.3,833.7 985.9,835.9 986.4,838.3 987.0,841.1 987.5,844.3 988.0,847.9 988.4,852.0 988.8,856.9 989.1,862.7 989.3,869.2 989.6,876.0 989.8,883.1 990.0,890.2 990.2,897.1 990.5,903.5 990.9,909.2 991.4,914.0 991.9,917.8 992.4,920.9 993.0,923.4 993.6,925.4 994.2,927.1 994.9,928.8 995.7,930.5 996.7,932.5 997.8,935.0 999.0,938.0 1000.4,941.7 1002.1,945.8 1003.9,950.2 1005.8,954.9 1007.8,959.8 1009.9,964.6 1011.9,969.3 1014.0,973.9 1016.0,978.2 1018.0,982.0 1019.9,985.5 1021.7,988.8 1023.4,991.9 1025.2,994.8 1027.0,997.6 1028.8,1000.2 1030.7,1002.8 1032.7,1005.2 1034.8,1007.6 1037.0,1010.0 1039.3,1012.3 1041.7,1014.5 1044.1,1016.6 1046.6,1018.6 1049.2,1020.6 1052.0,1022.4 1054.8,1024.2 1057.7,1025.9 1060.8,1027.5 1064.0,1029.0 1067.4,1030.4 1070.9,1031.7 1074.6,1032.8 1078.4,1033.8 1082.2,1034.8 1086.2,1035.8 1090.3,1036.7 1094.5,1037.7 1098.7,1038.8 1103.0,1040.0 1107.5,1041.3 1112.2,1042.6 1117.0,1044.0 1122.0,1045.4 1127.1,1046.9 1132.0,1048.3 1136.9,1049.8 1141.6,1051.2 1146.0,1052.6 1150.0,1054.0 1153.7,1055.4 1157.2,1056.7 1160.4,1058.1 1163.5,1059.5 1166.4,1060.9 1169.2,1062.2 1171.9,1063.5 1174.6,1064.7 1177.3,1065.9 1180.0,1067.0 1182.7,1068.0 1185.4,1069.0 1188.0,1069.9 1190.6,1070.8 1193.1,1071.6 1195.6,1072.4 1198.0,1073.2 1200.4,1073.8 1202.7,1074.4 1205.0,1075.0 1207.1,1075.5 1209.1,1076.0 1210.9,1076.4 1212.7,1076.8 1214.5,1077.1 1216.3,1077.3 1218.2,1077.5 1220.2,1077.6 1222.5,1077.7 1225.0,1077.6 1227.8,1077.6 1230.7,1077.7 1233.8,1077.8 1237.0,1077.9 1240.4,1077.9 1243.8,1077.7 1247.4,1077.1 1251.0,1076.2 1254.7,1074.9 1258.5,1073.0 1262.4,1070.4 1266.5,1067.1 1270.8,1063.3 1275.1,1059.1 1279.6,1054.6 1284.0,1050.0 1288.4,1045.5 1292.7,1041.3 1296.8,1037.4 1300.8,1034.0 1304.5,1031.1 1308.0,1028.5 1311.2,1026.2 1314.4,1024.0 1317.5,1022.0 1320.7,1020.1 1324.1,1018.1 1327.6,1016.2 1331.4,1014.2 1335.6,1012.0 1340.3,1009.7 1345.5,1007.3 1351.1,1004.9 1357.0,1002.4 1362.9,999.9 1368.7,997.5 1374.4,995.2 1379.6,993.0 1384.4,990.9 1388.5,989.0 1392.0,987.4 1394.9,986.0 1397.5,984.8 1399.7,983.7 1401.6,982.7 1403.4,981.7 1405.0,980.5 1406.6,979.3 1408.3,977.8 1410.0,976.0 1411.8,974.0 1413.5,971.8 1415.1,969.5 1416.7,967.1 1418.2,964.6 1419.7,961.9 1421.1,959.1 1422.4,956.2 1423.7,953.1 1425.0,950.0 1426.2,946.7 1427.4,943.4 1428.6,939.9 1429.7,936.3 1430.7,932.6 1431.7,928.8 1432.7,924.8 1433.6,920.7 1434.5,916.4 1435.3,912.0 1436.1,907.3 1436.8,902.4 1437.5,897.2 1438.1,891.9 1438.7,886.4 1439.3,881.0 1439.8,875.5 1440.3,870.2 1440.8,865.0 1441.3,860.0 1441.8,855.1 1442.2,850.2 1442.6,845.3 1443.0,840.4 1443.4,835.7 1443.8,831.1 1444.1,826.7 1444.4,822.5 1444.7,818.6 1445.0,815.0 1445.3,811.7 1445.5,808.6 1445.8,805.8 1446.0,803.1 1446.2,800.7 1446.4,798.5 1446.6,796.5 1446.8,794.8 1446.9,793.3 1447.0,792.0" fill="none" stroke="#ff2424" stroke-width="2.4" stroke-linejoin="round" stroke-linecap="round"/><polygon points="970.2,862.6 977.5,849.6 963.0,849.6" fill="#ff2424"/><polygon points="971.7,849.0 979.0,836.0 964.5,836.0" fill="#ff2424"/><polygon points="973.3,827.8 980.5,814.8 966.0,814.8" fill="#ff2424"/><polygon points="977.8,826.3 985.0,813.3 970.5,813.3" fill="#ff2424"/><polygon points="982.3,841.4 989.5,828.4 975.0,828.4" fill="#ff2424"/><polygon points="988.4,858.1 995.6,845.1 981.1,845.1" fill="#ff2424"/><polygon points="991.4,921.6 998.6,908.6 984.1,908.6" fill="#ff2424"/><polygon points="999.0,945.6 1006.2,932.6 991.8,932.6" fill="#ff2424"/><polygon points="1008.0,963.6 1015.2,950.6 1000.8,950.6" fill="#ff2424"/><polygon points="1020.0,994.1 1027.2,981.1 1012.8,981.1" fill="#ff2424"/><polygon points="1038.2,1021.3 1045.5,1008.3 1031.0,1008.3" fill="#ff2424"/><polygon points="1064.0,1037.9 1071.2,1024.9 1056.8,1024.9" fill="#ff2424"/><polygon points="1103.0,1047.0 1110.2,1034.0 1095.8,1034.0" fill="#ff2424"/><polygon points="1150.0,1062.1 1157.2,1049.1 1142.8,1049.1" fill="#ff2424"/><polygon points="1204.0,1088.2 1211.2,1075.2 1196.8,1075.2" fill="#ff2424"/><polygon points="1258.5,1085.2 1265.8,1072.2 1251.2,1072.2" fill="#ff2424"/><polygon points="1303.9,1038.4 1311.2,1025.4 1296.7,1025.4" fill="#ff2424"/><polygon points="1335.6,1020.2 1342.8,1007.2 1328.3,1007.2" fill="#ff2424"/><polygon points="1359.8,1009.6 1367.0,996.6 1352.5,996.6" fill="#ff2424"/><polygon points="1375.0,1003.6 1382.2,990.6 1367.8,990.6" fill="#ff2424"/><polygon points="1387.2,996.2 1394.5,983.2 1380.0,983.2" fill="#ff2424"/><polygon points="1398.0,990.8 1405.2,977.8 1390.8,977.8" fill="#ff2424"/><polygon points="1408.8,983.6 1416.0,970.6 1401.5,970.6" fill="#ff2424"/><polygon points="1417.8,971.0 1425.0,958.0 1410.5,958.0" fill="#ff2424"/><polygon points="1425.0,956.6 1432.2,943.6 1417.8,943.6" fill="#ff2424"/><polygon points="1432.2,933.2 1439.5,920.2 1425.0,920.2" fill="#ff2424"/><polygon points="1434.0,924.2 1441.2,911.2 1426.8,911.2" fill="#ff2424"/><polygon points="1437.6,908.0 1444.8,895.0 1430.3,895.0" fill="#ff2424"/><polygon points="1440.3,886.4 1447.5,873.4 1433.0,873.4" fill="#ff2424"/><polygon points="1442.0,865.6 1449.2,852.6 1434.8,852.6" fill="#ff2424"/><polygon points="1443.9,843.2 1451.2,830.2 1436.7,830.2" fill="#ff2424"/><polygon points="1445.7,821.6 1453.0,808.6 1438.5,808.6" fill="#ff2424"/><polygon points="1446.6,801.8 1453.8,788.8 1439.3,788.8" fill="#ff2424"/><line x1="483.4" y1="742.8" x2="545.8" y2="742.8" stroke="#000080" stroke-width="2.6"/><rect x="509.2" y="737.4" width="10.8" height="10.8" fill="#000080"/><text x="558.5" y="751.6" font-size="32">0 h</text><line x1="483.4" y1="776.8" x2="545.8" y2="776.8" stroke="#5555ff" stroke-width="2.6"/><circle cx="514.6" cy="776.8" r="6.5" fill="#5555ff"/><text x="558.5" y="785.6" font-size="32">280 h</text><line x1="483.4" y1="810.8" x2="545.8" y2="810.8" stroke="#ff8000" stroke-width="2.6"/><polygon points="514.6,802.9 522.1,816.4 507.1,816.4" fill="#ff8000"/><text x="558.5" y="819.6" font-size="32">540 h</text><line x1="483.4" y1="845" x2="545.8" y2="845" stroke="#ff2424" stroke-width="2.6"/><polygon points="514.6,852.9 522.1,839.4 507.1,839.4" fill="#ff2424"/><text x="558.5" y="853.8" font-size="32">880 h</text><line x1="1257.2" y1="746.6" x2="1319" y2="746.6" stroke="#000080" stroke-width="2.6"/><rect x="1282.8" y="741.2" width="10.8" height="10.8" fill="#000080"/><text x="1332.5" y="755.4" font-size="32">0 h</text><line x1="1257.2" y1="780.8" x2="1319" y2="780.8" stroke="#5555ff" stroke-width="2.6"/><circle cx="1288.2" cy="780.8" r="6.5" fill="#5555ff"/><text x="1332.5" y="789.6" font-size="32">280 h</text><line x1="1257.2" y1="815" x2="1319" y2="815" stroke="#ff8000" stroke-width="2.6"/><polygon points="1288.2,807.1 1295.7,820.6 1280.7,820.6" fill="#ff8000"/><text x="1332.5" y="823.8" font-size="32">540 h</text><line x1="1257.2" y1="849.2" x2="1319" y2="849.2" stroke="#ff2424" stroke-width="2.6"/><polygon points="1288.2,857.1 1295.7,843.6 1280.7,843.6" fill="#ff2424"/><text x="1332.5" y="858.0" font-size="32">880 h</text><text x="199.5" y="754.4" font-size="32" textLength="214" lengthAdjust="spacingAndGlyphs">Trap band I (I<tspan dy="10" font-size="21">i</tspan><tspan dy="-24" dx="-6" font-size="21">&#8722;</tspan><tspan dy="14">)</tspan></text><text x="202.5" y="803.2" font-size="31.5" textLength="218" lengthAdjust="spacingAndGlyphs">FA<tspan dy="10.5" font-size="22">0.92</tspan><tspan dy="-10.5">Cs</tspan><tspan dy="10.5" font-size="22">0.08</tspan><tspan dy="-10.5">PbI</tspan><tspan dy="10.5" font-size="22">3</tspan></text><text x="215.5" y="857.6" font-size="30">1</text><text x="968.5" y="756.8" font-size="32" textLength="223" lengthAdjust="spacingAndGlyphs">Trap band II (I<tspan dy="10" font-size="21">i</tspan><tspan dy="-24" dx="-6" font-size="21">+</tspan><tspan dy="14">)</tspan></text><text x="972.4" y="800" font-size="31.5" textLength="219" lengthAdjust="spacingAndGlyphs">FA<tspan dy="10.5" font-size="22">0.92</tspan><tspan dy="-10.5">Cs</tspan><tspan dy="10.5" font-size="22">0.08</tspan><tspan dy="-10.5">PbI</tspan><tspan dy="10.5" font-size="22">3</tspan></text><text x="1017.3" y="859.2" font-size="30">1</text><text x="152" y="1174.7" font-size="33">C<tspan dy="12.3" font-size="22.5">60</tspan></text><text x="582.5" y="1191.5" font-size="32" textLength="82" lengthAdjust="spacingAndGlyphs">PTAA</text><text x="951" y="1186.7" font-size="33">C<tspan dy="10.1" font-size="22.5">60</tspan></text><text x="1456.6" y="1179.9" font-size="32" text-anchor="end">PTAA</text><text x="267.5" y="1305.5" font-size="32" textLength="303" lengthAdjust="spacingAndGlyphs">Profiling distance(nm)</text><text x="1061.5" y="1304.5" font-size="32" textLength="303" lengthAdjust="spacingAndGlyphs">Profiling distance(nm)</text><text transform="translate(36.3,1078.5) rotate(-90)" font-size="33" textLength="266" lengthAdjust="spacingAndGlyphs">Trap density (cm<tspan dy="-12" font-size="22">&#8722;3</tspan><tspan dy="12">)</tspan></text><text transform="translate(828.3,1083.8) rotate(-90)" font-size="33" textLength="266" lengthAdjust="spacingAndGlyphs">Trap density (cm<tspan dy="-12" font-size="22">&#8722;3</tspan><tspan dy="12">)</tspan></text><text x="396" y="1375.5" font-size="52" text-anchor="middle" style="font-family:Liberation Serif">(c)</text><text x="1215.5" y="1375.5" font-size="52" text-anchor="middle" style="font-family:Liberation Serif">(d)</text><g stroke="#ededed" stroke-width="1"><line x1="90.6" y1="191.3" x2="306.0" y2="124.6"/><line x1="94.3" y1="259.4" x2="306.5" y2="183.2"/><line x1="97.9" y1="327.4" x2="307.0" y2="241.8"/><line x1="101.6" y1="395.5" x2="307.5" y2="300.4"/><line x1="130.7" y1="111.8" x2="145.8" y2="442.7"/><line x1="174.4" y1="100.3" x2="186.3" y2="421.8"/><line x1="218.1" y1="88.9" x2="226.9" y2="400.8"/><line x1="261.8" y1="77.4" x2="267.4" y2="379.9"/><line x1="159.5" y1="479.9" x2="356.7" y2="368.7"/><line x1="223.5" y1="499.2" x2="414.0" y2="380.1"/><line x1="287.4" y1="518.4" x2="471.3" y2="391.5"/><line x1="351.3" y1="537.6" x2="528.6" y2="402.9"/><line x1="458.7" y1="531.0" x2="145.8" y2="442.7"/><line x1="492.7" y1="502.2" x2="186.3" y2="421.8"/><line x1="526.6" y1="473.5" x2="226.9" y2="400.8"/><line x1="560.6" y1="444.7" x2="267.4" y2="379.9"/></g><polygon points="305.5,66.0 609.0,99.5 594.5,416.0 308.0,359.0" fill="#fee9b0"/><g stroke="#f8e2a8" stroke-width="1"><line x1="306.0" y1="124.6" x2="606.1" y2="162.8"/><line x1="306.5" y1="183.2" x2="603.2" y2="226.1"/><line x1="307.0" y1="241.8" x2="600.3" y2="289.4"/><line x1="307.5" y1="300.4" x2="597.4" y2="352.7"/><line x1="366.2" y1="72.7" x2="365.3" y2="370.4"/><line x1="426.9" y1="79.4" x2="422.6" y2="381.8"/><line x1="487.6" y1="86.1" x2="479.9" y2="393.2"/><line x1="548.3" y1="92.8" x2="537.2" y2="404.6"/></g><polyline points="87.0,123.2 305.5,66.0 609.0,99.5 594.5,416.0" fill="none" stroke="#8a8a8a" stroke-width="1.1"/><polyline points="105.2,463.6 308.0,359.0 594.5,416.0" fill="none" stroke="#777" stroke-width="1.1"/><defs>
<linearGradient id="sg" x1="0" y1="105" x2="0" y2="456" gradientUnits="userSpaceOnUse">
<stop offset="0" stop-color="#e8452b"/>
<stop offset="0.06" stop-color="#f27c2c"/>
<stop offset="0.13" stop-color="#f9d23a"/>
<stop offset="0.17" stop-color="#f3e63d"/>
<stop offset="0.23" stop-color="#b9d645"/>
<stop offset="0.30" stop-color="#5cbe4c"/>
<stop offset="0.42" stop-color="#45b74f"/>
<stop offset="0.52" stop-color="#48b98a"/>
<stop offset="0.60" stop-color="#46bec0"/>
<stop offset="0.67" stop-color="#46c4ec"/>
<stop offset="0.76" stop-color="#40aee6"/>
<stop offset="0.86" stop-color="#3c90d8"/>
<stop offset="1" stop-color="#3a7ccc"/>
</linearGradient>
<radialGradient id="sdark" cx="372" cy="420" r="82" gradientUnits="userSpaceOnUse" gradientTransform="translate(372 420) scale(1.25 0.75) translate(-372 -420)">
<stop offset="0" stop-color="#3650b0" stop-opacity="0.95"/>
<stop offset="0.55" stop-color="#3652b2" stop-opacity="0.6"/>
<stop offset="1" stop-color="#3a5cb8" stop-opacity="0"/>
</radialGradient>
<radialGradient id="sgreen" cx="165" cy="318" r="95" gradientUnits="userSpaceOnUse" gradientTransform="translate(165 318) scale(1.2 0.6) translate(-165 -318)">
<stop offset="0" stop-color="#52b874" stop-opacity="0.85"/>
<stop offset="1" stop-color="#52b874" stop-opacity="0"/>
</radialGradient>
<clipPath id="sclip"><polygon points="306.6,105.4 338.8,125.8 352.8,154.4 372.4,196.4 389.2,224.4 408.8,252.4 415.8,266.4 442.4,283.2 476.0,295.8 504.0,298.6 527.8,312.6 537.6,343.4 520.8,353.2 504.0,370.0 490.0,384.0 476.0,395.2 456.4,403.6 436.8,426.0 422.8,440.0 407.4,454.0 399.0,445.6 387.8,454.0 313.6,455.4 264.6,403.6 238.0,414.8 204.4,372.8 173.6,342.0 152.6,325.2 196.0,305.6 238.0,274.8 266.0,249.6 285.6,221.6 296.8,185.2 303.8,134.8"/></clipPath>
</defs><polygon points="306.6,105.4 338.8,125.8 352.8,154.4 372.4,196.4 389.2,224.4 408.8,252.4 415.8,266.4 442.4,283.2 476.0,295.8 504.0,298.6 527.8,312.6 537.6,343.4 520.8,353.2 504.0,370.0 490.0,384.0 476.0,395.2 456.4,403.6 436.8,426.0 422.8,440.0 407.4,454.0 399.0,445.6 387.8,454.0 313.6,455.4 264.6,403.6 238.0,414.8 204.4,372.8 173.6,342.0 152.6,325.2 196.0,305.6 238.0,274.8 266.0,249.6 285.6,221.6 296.8,185.2 303.8,134.8" fill="url(#sg)"/><polygon points="306.6,105.4 338.8,125.8 352.8,154.4 372.4,196.4 389.2,224.4 408.8,252.4 415.8,266.4 442.4,283.2 476.0,295.8 504.0,298.6 527.8,312.6 537.6,343.4 520.8,353.2 504.0,370.0 490.0,384.0 476.0,395.2 456.4,403.6 436.8,426.0 422.8,440.0 407.4,454.0 399.0,445.6 387.8,454.0 313.6,455.4 264.6,403.6 238.0,414.8 204.4,372.8 173.6,342.0 152.6,325.2 196.0,305.6 238.0,274.8 266.0,249.6 285.6,221.6 296.8,185.2 303.8,134.8" fill="url(#sdark)"/><polygon points="306.6,105.4 338.8,125.8 352.8,154.4 372.4,196.4 389.2,224.4 408.8,252.4 415.8,266.4 442.4,283.2 476.0,295.8 504.0,298.6 527.8,312.6 537.6,343.4 520.8,353.2 504.0,370.0 490.0,384.0 476.0,395.2 456.4,403.6 436.8,426.0 422.8,440.0 407.4,454.0 399.0,445.6 387.8,454.0 313.6,455.4 264.6,403.6 238.0,414.8 204.4,372.8 173.6,342.0 152.6,325.2 196.0,305.6 238.0,274.8 266.0,249.6 285.6,221.6 296.8,185.2 303.8,134.8" fill="url(#sgreen)"/><g clip-path="url(#sclip)" fill="none" stroke="#a4a4a4" stroke-width="1.2" stroke-opacity="0.9"><polyline points="306.6,105.4 302.2,146.6 296.1,187.5 282.3,226.4 256.3,258.3 224.4,284.8 190.4,308.1 152.6,325.2"/><polyline points="339.3,126.9 329.9,167.5 322.5,208.4 309.1,241.3 277.6,280.7 248.2,302.1 220.8,329.2 180.1,348.5"/><polyline points="356.5,162.3 350.9,199.4 340.3,234.2 325.2,277.6 298.9,306.0 271.2,326.0 241.2,355.7 205.4,374.1"/><polyline points="373.3,197.9 362.0,228.2 356.8,268.7 340.4,307.1 315.9,335.6 286.5,360.8 258.6,386.7 228.0,402.2"/><polyline points="394.1,231.3 386.3,256.8 370.1,289.2 361.8,320.9 335.8,343.0 310.3,366.8 283.4,390.4 256.4,407.0"/><polyline points="414.9,264.6 403.5,294.4 393.2,322.5 379.7,349.5 355.9,361.6 335.0,390.9 312.1,407.2 283.3,423.3"/><polyline points="447.9,285.3 434.2,307.6 421.3,338.9 399.9,360.3 381.1,390.2 352.6,411.1 332.3,426.7 308.1,449.5"/><polyline points="485.3,296.7 465.6,322.4 454.1,341.1 433.6,365.9 410.6,388.0 390.3,417.2 365.3,439.7 341.6,454.9"/><polyline points="521.7,309.0 499.9,324.6 484.4,347.4 461.9,373.3 441.4,387.6 416.4,416.3 398.1,438.8 377.6,454.2"/><polyline points="537.6,343.4 517.1,356.9 499.7,374.3 481.4,390.9 459.7,402.2 442.5,419.4 425.5,437.3 407.4,454.0"/><polyline points="306.6,105.4 339.3,126.9 356.5,162.3 373.3,197.9 394.1,231.3 414.9,264.6 447.9,285.3 485.3,296.7 521.7,309.0 537.6,343.4"/><polyline points="302.2,146.6 329.9,167.5 350.9,199.4 362.0,228.2 386.3,256.8 403.5,294.4 434.2,307.6 465.6,322.4 499.9,324.6 517.1,356.9"/><polyline points="296.1,187.5 322.5,208.4 340.3,234.2 356.8,268.7 370.1,289.2 393.2,322.5 421.3,338.9 454.1,341.1 484.4,347.4 499.7,374.3"/><polyline points="282.3,226.4 309.1,241.3 325.2,277.6 340.4,307.1 361.8,320.9 379.7,349.5 399.9,360.3 433.6,365.9 461.9,373.3 481.4,390.9"/><polyline points="256.3,258.3 277.6,280.7 298.9,306.0 315.9,335.6 335.8,343.0 355.9,361.6 381.1,390.2 410.6,388.0 441.4,387.6 459.7,402.2"/><polyline points="224.4,284.8 248.2,302.1 271.2,326.0 286.5,360.8 310.3,366.8 335.0,390.9 352.6,411.1 390.3,417.2 416.4,416.3 442.5,419.4"/><polyline points="190.4,308.1 220.8,329.2 241.2,355.7 258.6,386.7 283.4,390.4 312.1,407.2 332.3,426.7 365.3,439.7 398.1,438.8 425.5,437.3"/><polyline points="152.6,325.2 180.1,348.5 205.4,374.1 228.0,402.2 256.4,407.0 283.3,423.3 308.1,449.5 341.6,454.9 377.6,454.2 407.4,454.0"/><line x1="306.6" y1="105.4" x2="329.9" y2="167.5"/><line x1="329.9" y1="167.5" x2="296.1" y2="187.5"/><line x1="296.1" y1="187.5" x2="309.1" y2="241.3"/><line x1="309.1" y1="241.3" x2="256.3" y2="258.3"/><line x1="256.3" y1="258.3" x2="248.2" y2="302.1"/><line x1="248.2" y1="302.1" x2="190.4" y2="308.1"/><line x1="190.4" y1="308.1" x2="180.1" y2="348.5"/><line x1="356.5" y1="162.3" x2="329.9" y2="167.5"/><line x1="329.9" y1="167.5" x2="340.3" y2="234.2"/><line x1="340.3" y1="234.2" x2="309.1" y2="241.3"/><line x1="309.1" y1="241.3" x2="298.9" y2="306.0"/><line x1="298.9" y1="306.0" x2="248.2" y2="302.1"/><line x1="248.2" y1="302.1" x2="241.2" y2="355.7"/><line x1="241.2" y1="355.7" x2="180.1" y2="348.5"/><line x1="356.5" y1="162.3" x2="362.0" y2="228.2"/><line x1="362.0" y1="228.2" x2="340.3" y2="234.2"/><line x1="340.3" y1="234.2" x2="340.4" y2="307.1"/><line x1="340.4" y1="307.1" x2="298.9" y2="306.0"/><line x1="298.9" y1="306.0" x2="286.5" y2="360.8"/><line x1="286.5" y1="360.8" x2="241.2" y2="355.7"/><line x1="241.2" y1="355.7" x2="228.0" y2="402.2"/><line x1="394.1" y1="231.3" x2="362.0" y2="228.2"/><line x1="362.0" y1="228.2" x2="370.1" y2="289.2"/><line x1="370.1" y1="289.2" x2="340.4" y2="307.1"/><line x1="340.4" y1="307.1" x2="335.8" y2="343.0"/><line x1="335.8" y1="343.0" x2="286.5" y2="360.8"/><line x1="286.5" y1="360.8" x2="283.4" y2="390.4"/><line x1="283.4" y1="390.4" x2="228.0" y2="402.2"/><line x1="394.1" y1="231.3" x2="403.5" y2="294.4"/><line x1="403.5" y1="294.4" x2="370.1" y2="289.2"/><line x1="370.1" y1="289.2" x2="379.7" y2="349.5"/><line x1="379.7" y1="349.5" x2="335.8" y2="343.0"/><line x1="335.8" y1="343.0" x2="335.0" y2="390.9"/><line x1="335.0" y1="390.9" x2="283.4" y2="390.4"/><line x1="283.4" y1="390.4" x2="283.3" y2="423.3"/><line x1="447.9" y1="285.3" x2="403.5" y2="294.4"/><line x1="403.5" y1="294.4" x2="421.3" y2="338.9"/><line x1="421.3" y1="338.9" x2="379.7" y2="349.5"/><line x1="379.7" y1="349.5" x2="381.1" y2="390.2"/><line x1="381.1" y1="390.2" x2="335.0" y2="390.9"/><line x1="335.0" y1="390.9" x2="332.3" y2="426.7"/><line x1="332.3" y1="426.7" x2="283.3" y2="423.3"/><line x1="447.9" y1="285.3" x2="465.6" y2="322.4"/><line x1="465.6" y1="322.4" x2="421.3" y2="338.9"/><line x1="421.3" y1="338.9" x2="433.6" y2="365.9"/><line x1="433.6" y1="365.9" x2="381.1" y2="390.2"/><line x1="381.1" y1="390.2" x2="390.3" y2="417.2"/><line x1="390.3" y1="417.2" x2="332.3" y2="426.7"/><line x1="332.3" y1="426.7" x2="341.6" y2="454.9"/><line x1="521.7" y1="309.0" x2="465.6" y2="322.4"/><line x1="465.6" y1="322.4" x2="484.4" y2="347.4"/><line x1="484.4" y1="347.4" x2="433.6" y2="365.9"/><line x1="433.6" y1="365.9" x2="441.4" y2="387.6"/><line x1="441.4" y1="387.6" x2="390.3" y2="417.2"/><line x1="390.3" y1="417.2" x2="398.1" y2="438.8"/><line x1="398.1" y1="438.8" x2="341.6" y2="454.9"/><line x1="521.7" y1="309.0" x2="517.1" y2="356.9"/><line x1="517.1" y1="356.9" x2="484.4" y2="347.4"/><line x1="484.4" y1="347.4" x2="481.4" y2="390.9"/><line x1="481.4" y1="390.9" x2="441.4" y2="387.6"/><line x1="441.4" y1="387.6" x2="442.5" y2="419.4"/><line x1="442.5" y1="419.4" x2="398.1" y2="438.8"/><line x1="398.1" y1="438.8" x2="407.4" y2="454.0"/></g><line x1="87.0" y1="123.2" x2="105.2" y2="463.6" stroke="#111" stroke-width="2.2"/><polyline points="105.2,463.6 424.8,559.7 594.5,416.0" fill="none" stroke="#111" stroke-width="2.2"/><g stroke="#111" stroke-width="1.8"><line x1="101.5" y1="460.4" x2="105.0" y2="460.4"/><line x1="101.3" y1="456.0" x2="104.8" y2="456.0"/><line x1="101.1" y1="452.2" x2="104.6" y2="452.2"/><line x1="100.9" y1="448.8" x2="104.4" y2="448.8"/><line x1="98.2" y1="445.8" x2="104.2" y2="445.8"/><line x1="99.7" y1="426.1" x2="103.2" y2="426.1"/><line x1="99.1" y1="414.5" x2="102.6" y2="414.5"/><line x1="98.6" y1="406.3" x2="102.1" y2="406.3"/><line x1="98.3" y1="399.9" x2="101.8" y2="399.9"/><line x1="98.0" y1="394.8" x2="101.5" y2="394.8"/><line x1="97.8" y1="390.4" x2="101.3" y2="390.4"/><line x1="97.6" y1="386.6" x2="101.1" y2="386.6"/><line x1="97.4" y1="383.2" x2="100.9" y2="383.2"/><line x1="94.7" y1="380.2" x2="100.7" y2="380.2"/><line x1="96.2" y1="360.0" x2="99.7" y2="360.0"/><line x1="95.5" y1="348.2" x2="99.0" y2="348.2"/><line x1="95.1" y1="339.9" x2="98.6" y2="339.9"/><line x1="94.7" y1="333.4" x2="98.2" y2="333.4"/><line x1="94.5" y1="328.1" x2="98.0" y2="328.1"/><line x1="94.2" y1="323.6" x2="97.7" y2="323.6"/><line x1="94.0" y1="319.7" x2="97.5" y2="319.7"/><line x1="93.8" y1="316.3" x2="97.3" y2="316.3"/><line x1="91.2" y1="313.2" x2="97.2" y2="313.2"/><line x1="92.6" y1="293.1" x2="96.1" y2="293.1"/><line x1="92.0" y1="281.3" x2="95.5" y2="281.3"/><line x1="91.5" y1="272.9" x2="95.0" y2="272.9"/><line x1="91.2" y1="266.4" x2="94.7" y2="266.4"/><line x1="90.9" y1="261.1" x2="94.4" y2="261.1"/><line x1="90.6" y1="256.7" x2="94.1" y2="256.7"/><line x1="90.4" y1="252.8" x2="93.9" y2="252.8"/><line x1="90.2" y1="249.4" x2="93.7" y2="249.4"/><line x1="87.6" y1="246.3" x2="93.6" y2="246.3"/><line x1="88.9" y1="225.0" x2="92.4" y2="225.0"/><line x1="88.3" y1="212.5" x2="91.8" y2="212.5"/><line x1="87.8" y1="203.6" x2="91.3" y2="203.6"/><line x1="87.4" y1="196.7" x2="90.9" y2="196.7"/><line x1="87.1" y1="191.1" x2="90.6" y2="191.1"/><line x1="86.9" y1="186.4" x2="90.4" y2="186.4"/><line x1="86.7" y1="182.3" x2="90.2" y2="182.3"/><line x1="86.5" y1="178.6" x2="90.0" y2="178.6"/><line x1="83.8" y1="175.4" x2="89.8" y2="175.4"/><line x1="85.1" y1="153.7" x2="88.6" y2="153.7"/><line x1="84.5" y1="141.0" x2="88.0" y2="141.0"/><line x1="84.0" y1="132.1" x2="87.5" y2="132.1"/><line x1="83.6" y1="125.1" x2="87.1" y2="125.1"/><line x1="147.2" y1="478.0" x2="143.4" y2="481.2"/><line x1="178.5" y1="488.0" x2="176.2" y2="489.9"/><line x1="211.3" y1="497.8" x2="207.5" y2="501.0"/><line x1="244.5" y1="507.9" x2="242.2" y2="509.8"/><line x1="277.8" y1="518.0" x2="274.0" y2="521.2"/><line x1="312.5" y1="528.2" x2="310.2" y2="530.1"/><line x1="347.8" y1="538.2" x2="344.0" y2="541.4"/><line x1="385.0" y1="549.5" x2="382.7" y2="551.4"/><line x1="423.6" y1="561.0" x2="419.8" y2="564.2"/><line x1="448.0" y1="540.0" x2="452.8" y2="541.4"/><line x1="466.0" y1="524.5" x2="468.9" y2="525.4"/><line x1="484.5" y1="509.0" x2="489.3" y2="510.4"/><line x1="501.5" y1="494.5" x2="504.4" y2="495.4"/><line x1="518.5" y1="480.0" x2="523.3" y2="481.4"/><line x1="535.5" y1="465.8" x2="538.4" y2="466.7"/><line x1="552.5" y1="451.5" x2="557.3" y2="452.9"/><line x1="567.0" y1="439.2" x2="569.9" y2="440.1"/><line x1="581.5" y1="427.0" x2="586.3" y2="428.4"/></g><g transform="translate(64.3,191.9) rotate(-9) scale(0.78,1)"><text x="0" y="0" font-size="24" font-weight="bold" text-anchor="middle" fill="#333">10</text><text x="14" y="-12" font-size="14" font-weight="bold" fill="#333" transform="rotate(-14 14 -12)">15</text></g><g transform="translate(68.1,262.8) rotate(-9) scale(0.78,1)"><text x="0" y="0" font-size="24" font-weight="bold" text-anchor="middle" fill="#333">10</text><text x="14" y="-12" font-size="14" font-weight="bold" fill="#333" transform="rotate(-14 14 -12)">14</text></g><g transform="translate(71.7,329.7) rotate(-9) scale(0.78,1)"><text x="0" y="0" font-size="24" font-weight="bold" text-anchor="middle" fill="#333">10</text><text x="14" y="-12" font-size="14" font-weight="bold" fill="#333" transform="rotate(-14 14 -12)">13</text></g><g transform="translate(75.2,396.7) rotate(-9) scale(0.78,1)"><text x="0" y="0" font-size="24" font-weight="bold" text-anchor="middle" fill="#333">10</text><text x="14" y="-12" font-size="14" font-weight="bold" fill="#333" transform="rotate(-14 14 -12)">12</text></g><g transform="translate(78.7,462.3) rotate(-9) scale(0.78,1)"><text x="0" y="0" font-size="24" font-weight="bold" text-anchor="middle" fill="#333">10</text><text x="14" y="-12" font-size="14" font-weight="bold" fill="#333" transform="rotate(-14 14 -12)">11</text></g><text transform="matrix(1.07,-0.906,0.91,0.274,134.2,490.1)" font-size="14" font-weight="bold" text-anchor="middle" fill="#3a3a3a">0.40</text><text transform="matrix(1.07,-0.906,0.91,0.274,197.2,510.6)" font-size="14" font-weight="bold" text-anchor="middle" fill="#3a3a3a">0.36</text><text transform="matrix(1.07,-0.906,0.91,0.274,260.2,532.1)" font-size="14" font-weight="bold" text-anchor="middle" fill="#3a3a3a">0.32</text><text transform="matrix(1.07,-0.906,0.91,0.274,336.2,552.6)" font-size="14" font-weight="bold" text-anchor="middle" fill="#3a3a3a">0.28</text><text transform="matrix(1.07,-0.906,0.91,0.274,411.2,578.1)" font-size="14" font-weight="bold" text-anchor="middle" fill="#3a3a3a">0.24</text><text transform="matrix(0.91,0.274,-0.573,0.485,470,554)" font-size="15" font-weight="bold" text-anchor="middle" fill="#3a3a3a">20</text><text transform="matrix(0.91,0.274,-0.573,0.485,505.4,521.3)" font-size="15" font-weight="bold" text-anchor="middle" fill="#3a3a3a">24</text><text transform="matrix(0.91,0.274,-0.573,0.485,539.4,491)" font-size="15" font-weight="bold" text-anchor="middle" fill="#3a3a3a">28</text><text transform="matrix(0.91,0.274,-0.573,0.485,571,462)" font-size="15" font-weight="bold" text-anchor="middle" fill="#3a3a3a">32</text><text transform="matrix(0.91,0.274,-0.573,0.485,600,436.5)" font-size="15" font-weight="bold" text-anchor="middle" fill="#3a3a3a">36</text><text transform="matrix(1.297,0.377,-1.083,0.710,152,542)" font-size="20" fill="#222"><tspan font-style="italic">E</tspan><tspan style="font-family:Liberation Serif" font-style="italic">&#969;</tspan> (eV)</text><text transform="matrix(0.668,-0.605,1.724,0.517,501,594)" font-size="20" fill="#222">Profiling distance width (&#956;m)</text><text transform="translate(52,453) rotate(-92.8)" font-size="26.4" fill="#333" textLength="239" lengthAdjust="spacingAndGlyphs">tDOS (cm<tspan dy="-11" font-size="18">-3</tspan><tspan dy="11"> eV</tspan><tspan dy="-11" font-size="18">-1</tspan><tspan dy="11">)</tspan></text><text x="271" y="110.7" font-size="29" style="font-family:Liberation Serif" textLength="27.5" lengthAdjust="spacingAndGlyphs">III</text><text x="409" y="230.8" font-size="29" style="font-family:Liberation Serif" textLength="16" lengthAdjust="spacingAndGlyphs">II</text><text x="522.5" y="300.8" font-size="29" style="font-family:Liberation Serif" textLength="8.5" lengthAdjust="spacingAndGlyphs">I</text><text transform="translate(314.5,97.8) rotate(6.6)" font-size="22.5" textLength="284" lengthAdjust="spacingAndGlyphs">Perovskite/PTAA interface</text><text x="348.5" y="670.5" font-size="52" text-anchor="middle" style="font-family:Liberation Serif">(a)</text>
</svg>
</body></html>
